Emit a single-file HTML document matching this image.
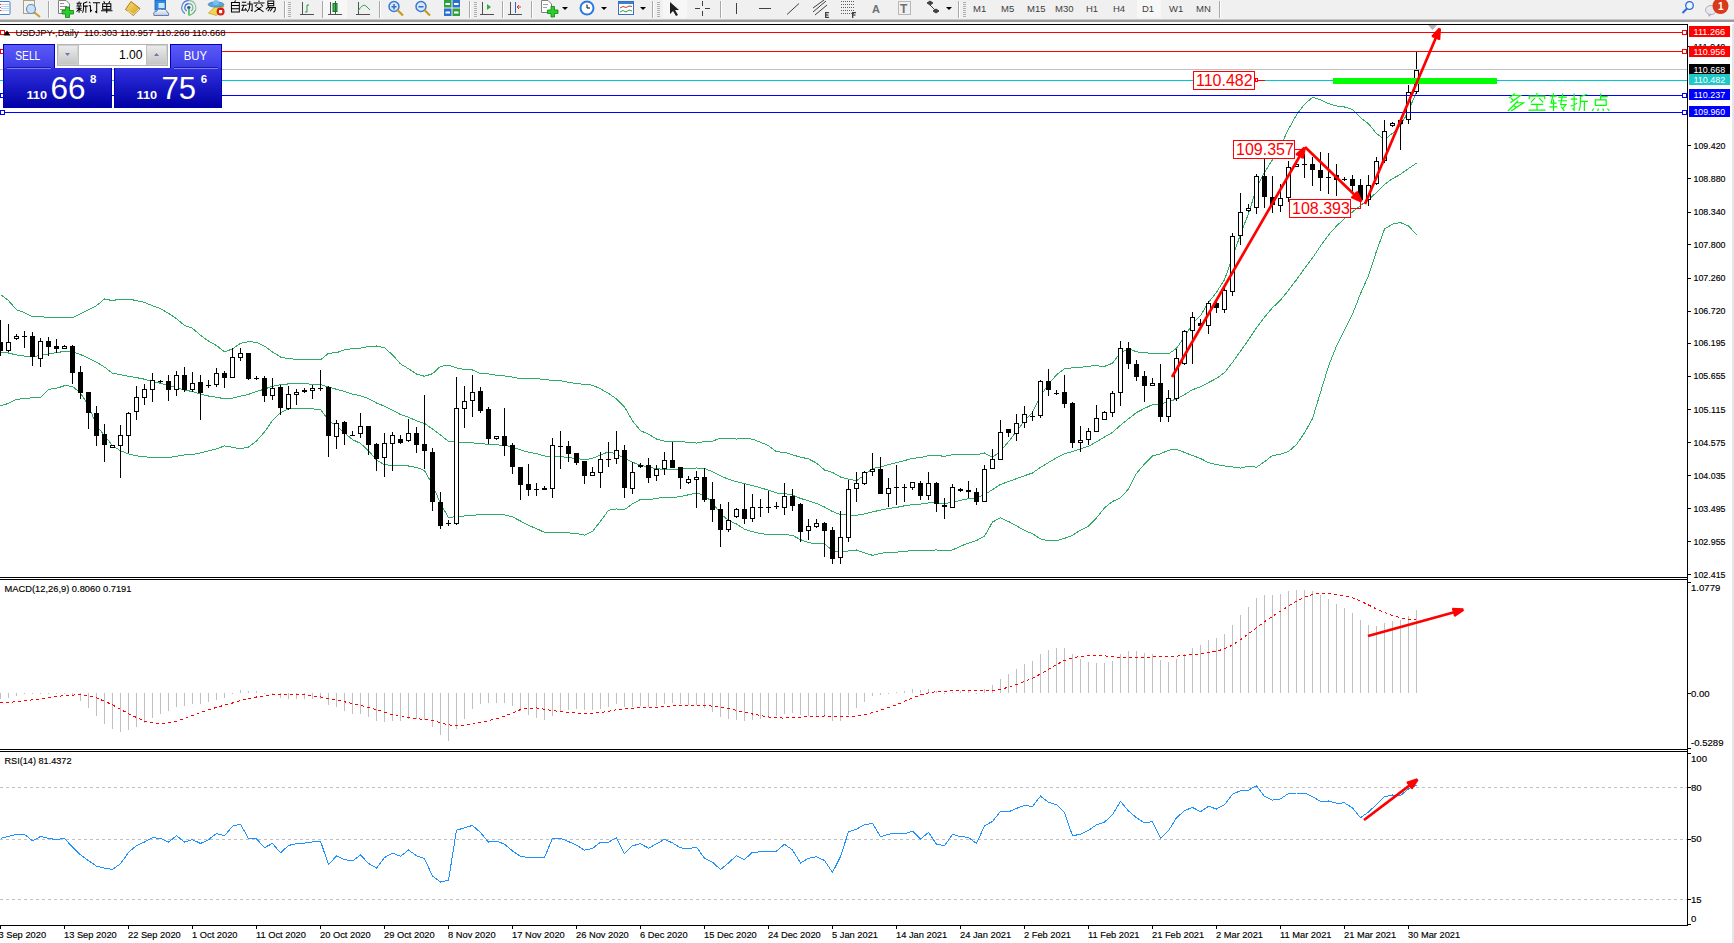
<!DOCTYPE html>
<html><head><meta charset="utf-8"><style>
html,body{margin:0;padding:0;background:#fff;}
body{width:1734px;height:943px;position:relative;overflow:hidden;font-family:"Liberation Sans",sans-serif;}
#tb{position:absolute;left:0;top:0;width:1734px;height:20px;background:#f0f0f0;border-bottom:2px solid #a0a0a0;}
</style></head><body>
<div id="tb"></div>
<svg id="ch" width="1734" height="943" viewBox="0 0 1734 943" style="position:absolute;left:0;top:0">
<g shape-rendering="crispEdges">
<rect x="0" y="24" width="1688" height="1" fill="#000"/>
<rect x="0" y="577" width="1688" height="1" fill="#000"/>
<rect x="0" y="579" width="1688" height="1" fill="#000"/>
<rect x="0" y="749" width="1688" height="1" fill="#000"/>
<rect x="0" y="751" width="1688" height="1" fill="#000"/>
<rect x="0" y="925" width="1688" height="1" fill="#000"/>
<rect x="1687" y="24" width="1" height="902" fill="#000"/>
<rect x="1732" y="0" width="2" height="943" fill="#e6e6e6"/>
<rect x="0" y="926" width="1" height="3" fill="#000"/>
<rect x="64" y="926" width="1" height="3" fill="#000"/>
<rect x="128" y="926" width="1" height="3" fill="#000"/>
<rect x="192" y="926" width="1" height="3" fill="#000"/>
<rect x="256" y="926" width="1" height="3" fill="#000"/>
<rect x="320" y="926" width="1" height="3" fill="#000"/>
<rect x="384" y="926" width="1" height="3" fill="#000"/>
<rect x="448" y="926" width="1" height="3" fill="#000"/>
<rect x="512" y="926" width="1" height="3" fill="#000"/>
<rect x="576" y="926" width="1" height="3" fill="#000"/>
<rect x="640" y="926" width="1" height="3" fill="#000"/>
<rect x="704" y="926" width="1" height="3" fill="#000"/>
<rect x="768" y="926" width="1" height="3" fill="#000"/>
<rect x="832" y="926" width="1" height="3" fill="#000"/>
<rect x="896" y="926" width="1" height="3" fill="#000"/>
<rect x="960" y="926" width="1" height="3" fill="#000"/>
<rect x="1024" y="926" width="1" height="3" fill="#000"/>
<rect x="1088" y="926" width="1" height="3" fill="#000"/>
<rect x="1152" y="926" width="1" height="3" fill="#000"/>
<rect x="1216" y="926" width="1" height="3" fill="#000"/>
<rect x="1280" y="926" width="1" height="3" fill="#000"/>
<rect x="1344" y="926" width="1" height="3" fill="#000"/>
<rect x="1408" y="926" width="1" height="3" fill="#000"/>
</g>
<g font-family='"Liberation Sans", sans-serif' font-size="9.3" fill="#000" stroke="#000" stroke-width="0.15">
<text x="-1.5" y="938">3 Sep 2020</text>
<text x="64" y="938">13 Sep 2020</text>
<text x="128" y="938">22 Sep 2020</text>
<text x="192" y="938">1 Oct 2020</text>
<text x="256" y="938">11 Oct 2020</text>
<text x="320" y="938">20 Oct 2020</text>
<text x="384" y="938">29 Oct 2020</text>
<text x="448" y="938">8 Nov 2020</text>
<text x="512" y="938">17 Nov 2020</text>
<text x="576" y="938">26 Nov 2020</text>
<text x="640" y="938">6 Dec 2020</text>
<text x="704" y="938">15 Dec 2020</text>
<text x="768" y="938">24 Dec 2020</text>
<text x="832" y="938">5 Jan 2021</text>
<text x="896" y="938">14 Jan 2021</text>
<text x="960" y="938">24 Jan 2021</text>
<text x="1024" y="938">2 Feb 2021</text>
<text x="1088" y="938">11 Feb 2021</text>
<text x="1152" y="938">21 Feb 2021</text>
<text x="1216" y="938">2 Mar 2021</text>
<text x="1280" y="938">11 Mar 2021</text>
<text x="1344" y="938">21 Mar 2021</text>
<text x="1408" y="938">30 Mar 2021</text>
</g>
<g stroke="#c0c0c0" stroke-width="1" stroke-dasharray="3,3" shape-rendering="crispEdges">
<line x1="0" y1="787.5" x2="1687" y2="787.5"/>
<line x1="0" y1="839.5" x2="1687" y2="839.5"/>
<line x1="0" y1="899.5" x2="1687" y2="899.5"/>
</g>
<g fill="none" stroke="#30ac66" stroke-width="1" shape-rendering="crispEdges">
<polyline points="0.5,294.6 8.5,300.6 16.5,309.7 24.5,312.7 32.5,316.8 40.5,316.4 48.5,317.8 56.5,317.8 64.5,317.8 72.5,317.8 80.5,313.7 88.5,309.7 96.5,305.7 104.5,299.0 112.5,300.6 120.5,299.0 128.5,299.0 136.5,300.6 144.5,302.3 152.5,305.8 160.5,308.6 168.5,313.3 176.5,318.7 184.5,325.4 192.5,328.3 200.5,335.2 208.5,341.1 216.5,345.5 224.5,351.8 232.5,348.9 240.5,343.3 248.5,341.8 256.5,342.2 264.5,346.1 272.5,351.9 280.5,357.0 288.5,358.9 296.5,359.1 304.5,359.1 312.5,359.5 320.5,359.8 328.5,353.3 336.5,352.7 344.5,349.9 352.5,348.6 360.5,348.1 368.5,346.6 376.5,346.0 384.5,347.8 392.5,354.8 400.5,363.9 408.5,368.7 416.5,374.0 424.5,376.3 432.5,373.7 440.5,366.3 448.5,365.3 456.5,367.9 464.5,369.4 472.5,370.0 480.5,373.7 488.5,373.9 496.5,375.2 504.5,376.0 512.5,377.1 520.5,378.8 528.5,378.9 536.5,378.7 544.5,379.5 552.5,380.5 560.5,380.7 568.5,382.4 576.5,383.5 584.5,384.4 592.5,385.2 600.5,388.8 608.5,393.4 616.5,398.9 624.5,407.0 632.5,420.8 640.5,430.7 648.5,434.2 656.5,439.0 664.5,441.2 672.5,441.3 680.5,441.6 688.5,442.3 696.5,443.1 704.5,441.4 712.5,441.1 720.5,438.1 728.5,438.1 736.5,439.1 744.5,438.3 752.5,439.2 760.5,442.2 768.5,445.7 776.5,451.8 784.5,452.3 792.5,454.9 800.5,457.1 808.5,458.9 816.5,463.1 824.5,470.0 832.5,472.5 840.5,477.0 848.5,479.2 856.5,480.7 864.5,475.0 872.5,468.5 880.5,466.9 888.5,464.6 896.5,462.6 904.5,460.6 912.5,458.3 920.5,457.7 928.5,455.7 936.5,455.7 944.5,456.2 952.5,454.8 960.5,454.6 968.5,454.4 976.5,454.8 984.5,453.0 992.5,457.4 1000.5,451.0 1008.5,441.7 1016.5,431.5 1024.5,421.0 1032.5,412.4 1040.5,395.8 1048.5,384.2 1056.5,374.8 1064.5,368.8 1072.5,367.8 1080.5,367.4 1088.5,366.1 1096.5,365.8 1104.5,366.4 1112.5,363.2 1120.5,352.7 1128.5,348.7 1136.5,351.8 1144.5,352.8 1152.5,353.3 1160.5,353.8 1168.5,354.0 1176.5,348.3 1184.5,336.9 1192.5,323.8 1200.5,315.5 1208.5,302.5 1216.5,292.3 1224.5,279.6 1232.5,257.8 1240.5,234.1 1248.5,213.7 1256.5,188.4 1264.5,172.4 1272.5,159.7 1280.5,146.2 1288.5,129.1 1296.5,114.9 1304.5,104.3 1312.5,97.3 1320.5,99.7 1328.5,103.7 1336.5,105.9 1344.5,107.0 1352.5,109.5 1360.5,117.7 1368.5,123.8 1376.5,133.6 1384.5,139.6 1392.5,133.3 1400.5,125.9 1408.5,111.0 1416.5,91.6"/>
<polyline points="0.5,352.0 8.5,353.0 16.5,355.0 24.5,356.1 32.5,356.7 40.5,355.5 48.5,354.0 56.5,352.6 64.5,351.4 72.5,352.0 80.5,354.6 88.5,358.1 96.5,362.1 104.5,367.1 112.5,373.2 120.5,374.8 128.5,376.2 136.5,377.6 144.5,379.2 152.5,381.6 160.5,383.2 168.5,385.5 176.5,387.5 184.5,390.2 192.5,391.5 200.5,394.1 208.5,396.0 216.5,397.2 224.5,398.8 232.5,398.1 240.5,396.1 248.5,394.4 256.5,391.5 264.5,389.1 272.5,386.2 280.5,384.8 288.5,383.9 296.5,383.7 304.5,383.8 312.5,384.2 320.5,384.6 328.5,386.9 336.5,389.3 344.5,391.5 352.5,394.1 360.5,395.7 368.5,398.7 376.5,403.0 384.5,406.2 392.5,410.1 400.5,414.6 408.5,417.3 416.5,420.7 424.5,423.4 432.5,429.1 440.5,435.0 448.5,441.4 456.5,442.2 464.5,442.7 472.5,442.8 480.5,443.9 488.5,444.1 496.5,444.8 504.5,445.4 512.5,447.0 520.5,449.9 528.5,452.2 536.5,453.7 544.5,456.0 552.5,456.5 560.5,456.6 568.5,457.6 576.5,458.5 584.5,459.8 592.5,458.3 600.5,455.0 608.5,451.8 616.5,453.9 624.5,458.3 632.5,462.3 640.5,465.1 648.5,467.0 656.5,468.7 664.5,469.4 672.5,469.4 680.5,469.1 688.5,468.5 696.5,468.0 704.5,468.5 712.5,471.7 720.5,475.9 728.5,479.3 736.5,481.6 744.5,483.7 752.5,485.5 760.5,487.8 768.5,490.2 776.5,493.0 784.5,493.4 792.5,495.1 800.5,498.4 808.5,500.8 816.5,503.5 824.5,507.0 832.5,511.6 840.5,514.5 848.5,515.0 856.5,515.3 864.5,513.9 872.5,511.9 880.5,510.1 888.5,508.5 896.5,507.4 904.5,505.8 912.5,504.6 920.5,504.1 928.5,502.9 936.5,502.8 944.5,503.4 952.5,502.4 960.5,500.4 968.5,498.7 976.5,497.7 984.5,494.6 992.5,489.7 1000.5,484.4 1008.5,481.6 1016.5,478.6 1024.5,475.7 1032.5,473.0 1040.5,467.4 1048.5,462.5 1056.5,457.8 1064.5,453.6 1072.5,451.6 1080.5,448.8 1088.5,446.2 1096.5,441.8 1104.5,437.1 1112.5,432.4 1120.5,425.2 1128.5,418.8 1136.5,412.6 1144.5,408.4 1152.5,404.6 1160.5,403.8 1168.5,402.1 1176.5,398.8 1184.5,394.6 1192.5,389.7 1200.5,386.9 1208.5,382.6 1216.5,378.4 1224.5,372.7 1232.5,362.4 1240.5,351.1 1248.5,339.9 1256.5,327.8 1264.5,317.1 1272.5,307.7 1280.5,300.2 1288.5,290.3 1296.5,279.7 1304.5,268.6 1312.5,258.0 1320.5,246.0 1328.5,235.0 1336.5,226.1 1344.5,218.5 1352.5,211.9 1360.5,205.6 1368.5,199.7 1376.5,192.4 1384.5,184.4 1392.5,178.7 1400.5,174.3 1408.5,168.5 1416.5,163.1"/>
<polyline points="0.5,405.8 8.5,403.4 16.5,399.4 24.5,398.4 32.5,397.8 40.5,397.4 48.5,389.3 56.5,388.3 64.5,385.7 72.5,386.3 80.5,393.3 88.5,405.4 96.5,425.6 104.5,435.6 112.5,445.7 120.5,450.8 128.5,453.8 136.5,455.8 144.5,456.8 152.5,457.4 160.5,457.7 168.5,457.7 176.5,456.3 184.5,454.9 192.5,454.6 200.5,452.9 208.5,450.9 216.5,448.9 224.5,445.9 232.5,447.2 240.5,448.9 248.5,447.0 256.5,440.9 264.5,432.0 272.5,420.5 280.5,412.6 288.5,408.9 296.5,408.2 304.5,408.5 312.5,408.9 320.5,409.4 328.5,420.5 336.5,425.9 344.5,433.0 352.5,439.6 360.5,443.4 368.5,450.8 376.5,460.0 384.5,464.7 392.5,465.4 400.5,465.3 408.5,466.0 416.5,467.4 424.5,470.5 432.5,484.6 440.5,503.7 448.5,517.6 456.5,516.6 464.5,516.0 472.5,515.7 480.5,514.1 488.5,514.3 496.5,514.4 504.5,514.8 512.5,516.9 520.5,521.0 528.5,525.4 536.5,528.6 544.5,532.4 552.5,532.5 560.5,532.6 568.5,532.9 576.5,533.6 584.5,535.1 592.5,531.4 600.5,521.2 608.5,510.3 616.5,509.0 624.5,509.6 632.5,503.8 640.5,499.5 648.5,499.8 656.5,498.3 664.5,497.5 672.5,497.5 680.5,496.6 688.5,494.8 696.5,492.8 704.5,495.6 712.5,502.4 720.5,513.7 728.5,520.4 736.5,524.0 744.5,529.1 752.5,531.7 760.5,533.5 768.5,534.7 776.5,534.1 784.5,534.5 792.5,535.4 800.5,539.6 808.5,542.6 816.5,543.9 824.5,544.0 832.5,550.6 840.5,552.0 848.5,550.9 856.5,550.0 864.5,552.8 872.5,555.3 880.5,553.3 888.5,552.4 896.5,552.2 904.5,551.1 912.5,550.9 920.5,550.5 928.5,550.1 936.5,550.0 944.5,550.5 952.5,550.0 960.5,546.2 968.5,543.1 976.5,540.6 984.5,536.2 992.5,522.0 1000.5,517.9 1008.5,521.5 1016.5,525.8 1024.5,530.5 1032.5,533.7 1040.5,539.0 1048.5,540.8 1056.5,540.7 1064.5,538.4 1072.5,535.4 1080.5,530.1 1088.5,526.2 1096.5,517.9 1104.5,507.8 1112.5,501.5 1120.5,497.8 1128.5,489.0 1136.5,473.3 1144.5,464.0 1152.5,455.9 1160.5,453.8 1168.5,450.2 1176.5,449.3 1184.5,452.4 1192.5,455.6 1200.5,458.4 1208.5,462.7 1216.5,464.5 1224.5,465.9 1232.5,467.0 1240.5,468.1 1248.5,466.2 1256.5,467.2 1264.5,461.7 1272.5,455.6 1280.5,454.1 1288.5,451.5 1296.5,444.5 1304.5,432.9 1312.5,418.6 1320.5,392.4 1328.5,366.2 1336.5,346.2 1344.5,329.9 1352.5,314.3 1360.5,293.6 1368.5,275.6 1376.5,251.1 1384.5,229.1 1392.5,224.1 1400.5,222.6 1408.5,225.9 1416.5,234.6"/>
</g>
<g shape-rendering="crispEdges">
<rect x="0" y="320" width="1" height="36" fill="#000"/>
<rect x="-2" y="342" width="5" height="9" fill="#000"/>
<rect x="8" y="324" width="1" height="28" fill="#000"/>
<rect x="6" y="342" width="5" height="9" fill="#000"/>
<rect x="7" y="343" width="3" height="7" fill="#fff"/>
<rect x="16" y="334" width="1" height="6" fill="#000"/>
<rect x="14" y="336" width="5" height="3" fill="#000"/>
<rect x="15" y="337" width="3" height="1" fill="#fff"/>
<rect x="24" y="331" width="1" height="17" fill="#000"/>
<rect x="22" y="336" width="5" height="1" fill="#000"/>
<rect x="32" y="332" width="1" height="34" fill="#000"/>
<rect x="30" y="336" width="5" height="21" fill="#000"/>
<rect x="40" y="338" width="1" height="29" fill="#000"/>
<rect x="38" y="341" width="5" height="18" fill="#000"/>
<rect x="39" y="342" width="3" height="16" fill="#fff"/>
<rect x="48" y="337" width="1" height="19" fill="#000"/>
<rect x="46" y="341" width="5" height="6" fill="#000"/>
<rect x="56" y="339" width="1" height="14" fill="#000"/>
<rect x="54" y="346" width="5" height="3" fill="#000"/>
<rect x="64" y="345" width="1" height="3" fill="#000"/>
<rect x="62" y="346" width="5" height="3" fill="#000"/>
<rect x="63" y="347" width="3" height="1" fill="#fff"/>
<rect x="72" y="345" width="1" height="39" fill="#000"/>
<rect x="70" y="346" width="5" height="27" fill="#000"/>
<rect x="80" y="366" width="1" height="33" fill="#000"/>
<rect x="78" y="372" width="5" height="21" fill="#000"/>
<rect x="88" y="392" width="1" height="37" fill="#000"/>
<rect x="86" y="392" width="5" height="21" fill="#000"/>
<rect x="96" y="406" width="1" height="40" fill="#000"/>
<rect x="94" y="413" width="5" height="23" fill="#000"/>
<rect x="104" y="424" width="1" height="38" fill="#000"/>
<rect x="102" y="434" width="5" height="11" fill="#000"/>
<rect x="112" y="445" width="1" height="2" fill="#000"/>
<rect x="110" y="445" width="5" height="3" fill="#000"/>
<rect x="111" y="446" width="3" height="1" fill="#fff"/>
<rect x="120" y="425" width="1" height="53" fill="#000"/>
<rect x="118" y="435" width="5" height="11" fill="#000"/>
<rect x="119" y="436" width="3" height="9" fill="#fff"/>
<rect x="128" y="412" width="1" height="41" fill="#000"/>
<rect x="126" y="413" width="5" height="23" fill="#000"/>
<rect x="127" y="414" width="3" height="21" fill="#fff"/>
<rect x="136" y="386" width="1" height="34" fill="#000"/>
<rect x="134" y="397" width="5" height="15" fill="#000"/>
<rect x="135" y="398" width="3" height="13" fill="#fff"/>
<rect x="144" y="384" width="1" height="21" fill="#000"/>
<rect x="142" y="389" width="5" height="9" fill="#000"/>
<rect x="143" y="390" width="3" height="7" fill="#fff"/>
<rect x="152" y="373" width="1" height="29" fill="#000"/>
<rect x="150" y="380" width="5" height="10" fill="#000"/>
<rect x="151" y="381" width="3" height="8" fill="#fff"/>
<rect x="160" y="380" width="1" height="3" fill="#000"/>
<rect x="158" y="381" width="5" height="1" fill="#000"/>
<rect x="168" y="375" width="1" height="26" fill="#000"/>
<rect x="166" y="381" width="5" height="9" fill="#000"/>
<rect x="176" y="371" width="1" height="25" fill="#000"/>
<rect x="174" y="375" width="5" height="15" fill="#000"/>
<rect x="175" y="376" width="3" height="13" fill="#fff"/>
<rect x="184" y="367" width="1" height="25" fill="#000"/>
<rect x="182" y="375" width="5" height="15" fill="#000"/>
<rect x="192" y="372" width="1" height="20" fill="#000"/>
<rect x="190" y="383" width="5" height="7" fill="#000"/>
<rect x="191" y="384" width="3" height="5" fill="#fff"/>
<rect x="200" y="375" width="1" height="45" fill="#000"/>
<rect x="198" y="382" width="5" height="11" fill="#000"/>
<rect x="208" y="380" width="1" height="8" fill="#000"/>
<rect x="206" y="385" width="5" height="1" fill="#000"/>
<rect x="216" y="368" width="1" height="19" fill="#000"/>
<rect x="214" y="373" width="5" height="12" fill="#000"/>
<rect x="215" y="374" width="3" height="10" fill="#fff"/>
<rect x="224" y="371" width="1" height="17" fill="#000"/>
<rect x="222" y="373" width="5" height="5" fill="#000"/>
<rect x="232" y="348" width="1" height="30" fill="#000"/>
<rect x="230" y="357" width="5" height="21" fill="#000"/>
<rect x="231" y="358" width="3" height="19" fill="#fff"/>
<rect x="240" y="348" width="1" height="13" fill="#000"/>
<rect x="238" y="353" width="5" height="5" fill="#000"/>
<rect x="239" y="354" width="3" height="3" fill="#fff"/>
<rect x="248" y="353" width="1" height="27" fill="#000"/>
<rect x="246" y="353" width="5" height="26" fill="#000"/>
<rect x="256" y="376" width="1" height="4" fill="#000"/>
<rect x="254" y="378" width="5" height="1" fill="#000"/>
<rect x="264" y="376" width="1" height="26" fill="#000"/>
<rect x="262" y="378" width="5" height="18" fill="#000"/>
<rect x="272" y="378" width="1" height="22" fill="#000"/>
<rect x="270" y="388" width="5" height="8" fill="#000"/>
<rect x="271" y="389" width="3" height="6" fill="#fff"/>
<rect x="280" y="385" width="1" height="30" fill="#000"/>
<rect x="278" y="387" width="5" height="21" fill="#000"/>
<rect x="288" y="386" width="1" height="24" fill="#000"/>
<rect x="286" y="394" width="5" height="15" fill="#000"/>
<rect x="287" y="395" width="3" height="13" fill="#fff"/>
<rect x="296" y="389" width="1" height="16" fill="#000"/>
<rect x="294" y="392" width="5" height="3" fill="#000"/>
<rect x="295" y="393" width="3" height="1" fill="#fff"/>
<rect x="304" y="388" width="1" height="5" fill="#000"/>
<rect x="302" y="390" width="5" height="2" fill="#000"/>
<rect x="312" y="385" width="1" height="14" fill="#000"/>
<rect x="310" y="388" width="5" height="3" fill="#000"/>
<rect x="311" y="389" width="3" height="1" fill="#fff"/>
<rect x="320" y="370" width="1" height="21" fill="#000"/>
<rect x="318" y="388" width="5" height="1" fill="#000"/>
<rect x="328" y="386" width="1" height="71" fill="#000"/>
<rect x="326" y="387" width="5" height="49" fill="#000"/>
<rect x="336" y="420" width="1" height="29" fill="#000"/>
<rect x="334" y="423" width="5" height="14" fill="#000"/>
<rect x="335" y="424" width="3" height="12" fill="#fff"/>
<rect x="344" y="421" width="1" height="24" fill="#000"/>
<rect x="342" y="422" width="5" height="12" fill="#000"/>
<rect x="352" y="431" width="1" height="4" fill="#000"/>
<rect x="350" y="435" width="5" height="1" fill="#000"/>
<rect x="360" y="413" width="1" height="25" fill="#000"/>
<rect x="358" y="426" width="5" height="8" fill="#000"/>
<rect x="359" y="427" width="3" height="6" fill="#fff"/>
<rect x="368" y="426" width="1" height="29" fill="#000"/>
<rect x="366" y="426" width="5" height="19" fill="#000"/>
<rect x="376" y="443" width="1" height="28" fill="#000"/>
<rect x="374" y="444" width="5" height="15" fill="#000"/>
<rect x="384" y="433" width="1" height="44" fill="#000"/>
<rect x="382" y="443" width="5" height="15" fill="#000"/>
<rect x="383" y="444" width="3" height="13" fill="#fff"/>
<rect x="392" y="432" width="1" height="39" fill="#000"/>
<rect x="390" y="435" width="5" height="9" fill="#000"/>
<rect x="391" y="436" width="3" height="7" fill="#fff"/>
<rect x="400" y="435" width="1" height="9" fill="#000"/>
<rect x="398" y="439" width="5" height="4" fill="#000"/>
<rect x="408" y="419" width="1" height="23" fill="#000"/>
<rect x="406" y="433" width="5" height="8" fill="#000"/>
<rect x="407" y="434" width="3" height="6" fill="#fff"/>
<rect x="416" y="427" width="1" height="26" fill="#000"/>
<rect x="414" y="433" width="5" height="12" fill="#000"/>
<rect x="424" y="395" width="1" height="74" fill="#000"/>
<rect x="422" y="444" width="5" height="7" fill="#000"/>
<rect x="432" y="448" width="1" height="63" fill="#000"/>
<rect x="430" y="452" width="5" height="50" fill="#000"/>
<rect x="440" y="492" width="1" height="37" fill="#000"/>
<rect x="438" y="502" width="5" height="24" fill="#000"/>
<rect x="448" y="520" width="1" height="6" fill="#000"/>
<rect x="446" y="523" width="5" height="1" fill="#000"/>
<rect x="456" y="377" width="1" height="148" fill="#000"/>
<rect x="454" y="408" width="5" height="116" fill="#000"/>
<rect x="455" y="409" width="3" height="114" fill="#fff"/>
<rect x="464" y="386" width="1" height="42" fill="#000"/>
<rect x="462" y="401" width="5" height="8" fill="#000"/>
<rect x="463" y="402" width="3" height="6" fill="#fff"/>
<rect x="472" y="375" width="1" height="42" fill="#000"/>
<rect x="470" y="392" width="5" height="9" fill="#000"/>
<rect x="471" y="393" width="3" height="7" fill="#fff"/>
<rect x="480" y="387" width="1" height="26" fill="#000"/>
<rect x="478" y="391" width="5" height="20" fill="#000"/>
<rect x="488" y="407" width="1" height="37" fill="#000"/>
<rect x="486" y="409" width="5" height="30" fill="#000"/>
<rect x="496" y="436" width="1" height="4" fill="#000"/>
<rect x="494" y="436" width="5" height="3" fill="#000"/>
<rect x="495" y="437" width="3" height="1" fill="#fff"/>
<rect x="504" y="408" width="1" height="48" fill="#000"/>
<rect x="502" y="436" width="5" height="10" fill="#000"/>
<rect x="512" y="443" width="1" height="31" fill="#000"/>
<rect x="510" y="445" width="5" height="22" fill="#000"/>
<rect x="520" y="467" width="1" height="33" fill="#000"/>
<rect x="518" y="467" width="5" height="18" fill="#000"/>
<rect x="528" y="464" width="1" height="32" fill="#000"/>
<rect x="526" y="484" width="5" height="6" fill="#000"/>
<rect x="536" y="483" width="1" height="13" fill="#000"/>
<rect x="534" y="489" width="5" height="1" fill="#000"/>
<rect x="544" y="486" width="1" height="4" fill="#000"/>
<rect x="542" y="488" width="5" height="2" fill="#000"/>
<rect x="552" y="438" width="1" height="60" fill="#000"/>
<rect x="550" y="445" width="5" height="44" fill="#000"/>
<rect x="551" y="446" width="3" height="42" fill="#fff"/>
<rect x="560" y="431" width="1" height="38" fill="#000"/>
<rect x="558" y="446" width="5" height="1" fill="#000"/>
<rect x="568" y="441" width="1" height="21" fill="#000"/>
<rect x="566" y="446" width="5" height="8" fill="#000"/>
<rect x="576" y="453" width="1" height="12" fill="#000"/>
<rect x="574" y="453" width="5" height="10" fill="#000"/>
<rect x="584" y="461" width="1" height="23" fill="#000"/>
<rect x="582" y="461" width="5" height="15" fill="#000"/>
<rect x="592" y="467" width="1" height="9" fill="#000"/>
<rect x="590" y="472" width="5" height="4" fill="#000"/>
<rect x="591" y="473" width="3" height="2" fill="#fff"/>
<rect x="600" y="452" width="1" height="36" fill="#000"/>
<rect x="598" y="459" width="5" height="14" fill="#000"/>
<rect x="599" y="460" width="3" height="12" fill="#fff"/>
<rect x="608" y="442" width="1" height="25" fill="#000"/>
<rect x="606" y="459" width="5" height="1" fill="#000"/>
<rect x="616" y="431" width="1" height="33" fill="#000"/>
<rect x="614" y="450" width="5" height="9" fill="#000"/>
<rect x="615" y="451" width="3" height="7" fill="#fff"/>
<rect x="624" y="445" width="1" height="53" fill="#000"/>
<rect x="622" y="450" width="5" height="38" fill="#000"/>
<rect x="632" y="462" width="1" height="32" fill="#000"/>
<rect x="630" y="472" width="5" height="17" fill="#000"/>
<rect x="631" y="473" width="3" height="15" fill="#fff"/>
<rect x="640" y="463" width="1" height="5" fill="#000"/>
<rect x="638" y="465" width="5" height="2" fill="#000"/>
<rect x="648" y="458" width="1" height="25" fill="#000"/>
<rect x="646" y="465" width="5" height="13" fill="#000"/>
<rect x="656" y="465" width="1" height="16" fill="#000"/>
<rect x="654" y="469" width="5" height="7" fill="#000"/>
<rect x="655" y="470" width="3" height="5" fill="#fff"/>
<rect x="664" y="452" width="1" height="23" fill="#000"/>
<rect x="662" y="460" width="5" height="9" fill="#000"/>
<rect x="663" y="461" width="3" height="7" fill="#fff"/>
<rect x="672" y="442" width="1" height="26" fill="#000"/>
<rect x="670" y="460" width="5" height="8" fill="#000"/>
<rect x="680" y="467" width="1" height="22" fill="#000"/>
<rect x="678" y="467" width="5" height="11" fill="#000"/>
<rect x="688" y="476" width="1" height="8" fill="#000"/>
<rect x="686" y="479" width="5" height="4" fill="#000"/>
<rect x="687" y="480" width="3" height="2" fill="#fff"/>
<rect x="696" y="471" width="1" height="37" fill="#000"/>
<rect x="694" y="477" width="5" height="3" fill="#000"/>
<rect x="695" y="478" width="3" height="1" fill="#fff"/>
<rect x="704" y="468" width="1" height="34" fill="#000"/>
<rect x="702" y="477" width="5" height="23" fill="#000"/>
<rect x="712" y="482" width="1" height="40" fill="#000"/>
<rect x="710" y="499" width="5" height="11" fill="#000"/>
<rect x="720" y="504" width="1" height="43" fill="#000"/>
<rect x="718" y="509" width="5" height="21" fill="#000"/>
<rect x="728" y="502" width="1" height="30" fill="#000"/>
<rect x="726" y="520" width="5" height="10" fill="#000"/>
<rect x="727" y="521" width="3" height="8" fill="#fff"/>
<rect x="736" y="508" width="1" height="10" fill="#000"/>
<rect x="734" y="509" width="5" height="8" fill="#000"/>
<rect x="735" y="510" width="3" height="6" fill="#fff"/>
<rect x="744" y="484" width="1" height="40" fill="#000"/>
<rect x="742" y="509" width="5" height="10" fill="#000"/>
<rect x="752" y="494" width="1" height="28" fill="#000"/>
<rect x="750" y="507" width="5" height="12" fill="#000"/>
<rect x="751" y="508" width="3" height="10" fill="#fff"/>
<rect x="760" y="499" width="1" height="18" fill="#000"/>
<rect x="758" y="507" width="5" height="1" fill="#000"/>
<rect x="768" y="491" width="1" height="22" fill="#000"/>
<rect x="766" y="507" width="5" height="1" fill="#000"/>
<rect x="776" y="502" width="1" height="7" fill="#000"/>
<rect x="774" y="506" width="5" height="1" fill="#000"/>
<rect x="784" y="483" width="1" height="32" fill="#000"/>
<rect x="782" y="496" width="5" height="12" fill="#000"/>
<rect x="783" y="497" width="3" height="10" fill="#fff"/>
<rect x="792" y="489" width="1" height="22" fill="#000"/>
<rect x="790" y="496" width="5" height="10" fill="#000"/>
<rect x="800" y="503" width="1" height="39" fill="#000"/>
<rect x="798" y="504" width="5" height="28" fill="#000"/>
<rect x="808" y="519" width="1" height="21" fill="#000"/>
<rect x="806" y="526" width="5" height="5" fill="#000"/>
<rect x="807" y="527" width="3" height="3" fill="#fff"/>
<rect x="816" y="519" width="1" height="9" fill="#000"/>
<rect x="814" y="523" width="5" height="4" fill="#000"/>
<rect x="815" y="524" width="3" height="2" fill="#fff"/>
<rect x="824" y="522" width="1" height="35" fill="#000"/>
<rect x="822" y="523" width="5" height="8" fill="#000"/>
<rect x="832" y="527" width="1" height="37" fill="#000"/>
<rect x="830" y="530" width="5" height="29" fill="#000"/>
<rect x="840" y="511" width="1" height="53" fill="#000"/>
<rect x="838" y="537" width="5" height="21" fill="#000"/>
<rect x="839" y="538" width="3" height="19" fill="#fff"/>
<rect x="848" y="480" width="1" height="62" fill="#000"/>
<rect x="846" y="489" width="5" height="49" fill="#000"/>
<rect x="847" y="490" width="3" height="47" fill="#fff"/>
<rect x="856" y="472" width="1" height="30" fill="#000"/>
<rect x="854" y="483" width="5" height="6" fill="#000"/>
<rect x="855" y="484" width="3" height="4" fill="#fff"/>
<rect x="864" y="471" width="1" height="14" fill="#000"/>
<rect x="862" y="472" width="5" height="12" fill="#000"/>
<rect x="863" y="473" width="3" height="10" fill="#fff"/>
<rect x="872" y="453" width="1" height="23" fill="#000"/>
<rect x="870" y="469" width="5" height="3" fill="#000"/>
<rect x="871" y="470" width="3" height="1" fill="#fff"/>
<rect x="880" y="457" width="1" height="37" fill="#000"/>
<rect x="878" y="469" width="5" height="25" fill="#000"/>
<rect x="888" y="478" width="1" height="29" fill="#000"/>
<rect x="886" y="488" width="5" height="6" fill="#000"/>
<rect x="887" y="489" width="3" height="4" fill="#fff"/>
<rect x="896" y="465" width="1" height="40" fill="#000"/>
<rect x="894" y="487" width="5" height="1" fill="#000"/>
<rect x="904" y="484" width="1" height="18" fill="#000"/>
<rect x="902" y="487" width="5" height="1" fill="#000"/>
<rect x="912" y="482" width="1" height="8" fill="#000"/>
<rect x="910" y="482" width="5" height="6" fill="#000"/>
<rect x="911" y="483" width="3" height="4" fill="#fff"/>
<rect x="920" y="481" width="1" height="19" fill="#000"/>
<rect x="918" y="483" width="5" height="13" fill="#000"/>
<rect x="928" y="472" width="1" height="28" fill="#000"/>
<rect x="926" y="483" width="5" height="13" fill="#000"/>
<rect x="927" y="484" width="3" height="11" fill="#fff"/>
<rect x="936" y="482" width="1" height="30" fill="#000"/>
<rect x="934" y="483" width="5" height="21" fill="#000"/>
<rect x="944" y="498" width="1" height="21" fill="#000"/>
<rect x="942" y="505" width="5" height="2" fill="#000"/>
<rect x="952" y="484" width="1" height="24" fill="#000"/>
<rect x="950" y="487" width="5" height="21" fill="#000"/>
<rect x="951" y="488" width="3" height="19" fill="#fff"/>
<rect x="960" y="488" width="1" height="4" fill="#000"/>
<rect x="958" y="489" width="5" height="2" fill="#000"/>
<rect x="968" y="481" width="1" height="17" fill="#000"/>
<rect x="966" y="490" width="5" height="2" fill="#000"/>
<rect x="976" y="488" width="1" height="17" fill="#000"/>
<rect x="974" y="492" width="5" height="10" fill="#000"/>
<rect x="984" y="465" width="1" height="37" fill="#000"/>
<rect x="982" y="469" width="5" height="33" fill="#000"/>
<rect x="983" y="470" width="3" height="31" fill="#fff"/>
<rect x="992" y="449" width="1" height="20" fill="#000"/>
<rect x="990" y="459" width="5" height="10" fill="#000"/>
<rect x="991" y="460" width="3" height="8" fill="#fff"/>
<rect x="1000" y="420" width="1" height="40" fill="#000"/>
<rect x="998" y="432" width="5" height="28" fill="#000"/>
<rect x="999" y="433" width="3" height="26" fill="#fff"/>
<rect x="1008" y="429" width="1" height="8" fill="#000"/>
<rect x="1006" y="429" width="5" height="4" fill="#000"/>
<rect x="1016" y="414" width="1" height="27" fill="#000"/>
<rect x="1014" y="423" width="5" height="11" fill="#000"/>
<rect x="1015" y="424" width="3" height="9" fill="#fff"/>
<rect x="1024" y="406" width="1" height="22" fill="#000"/>
<rect x="1022" y="414" width="5" height="9" fill="#000"/>
<rect x="1023" y="415" width="3" height="7" fill="#fff"/>
<rect x="1032" y="411" width="1" height="10" fill="#000"/>
<rect x="1030" y="416" width="5" height="1" fill="#000"/>
<rect x="1040" y="380" width="1" height="38" fill="#000"/>
<rect x="1038" y="381" width="5" height="35" fill="#000"/>
<rect x="1039" y="382" width="3" height="33" fill="#fff"/>
<rect x="1048" y="369" width="1" height="27" fill="#000"/>
<rect x="1046" y="381" width="5" height="9" fill="#000"/>
<rect x="1056" y="390" width="1" height="5" fill="#000"/>
<rect x="1054" y="393" width="5" height="1" fill="#000"/>
<rect x="1064" y="375" width="1" height="33" fill="#000"/>
<rect x="1062" y="392" width="5" height="12" fill="#000"/>
<rect x="1072" y="402" width="1" height="46" fill="#000"/>
<rect x="1070" y="403" width="5" height="40" fill="#000"/>
<rect x="1080" y="426" width="1" height="26" fill="#000"/>
<rect x="1078" y="440" width="5" height="3" fill="#000"/>
<rect x="1079" y="441" width="3" height="1" fill="#fff"/>
<rect x="1088" y="428" width="1" height="17" fill="#000"/>
<rect x="1086" y="431" width="5" height="9" fill="#000"/>
<rect x="1087" y="432" width="3" height="7" fill="#fff"/>
<rect x="1096" y="405" width="1" height="27" fill="#000"/>
<rect x="1094" y="418" width="5" height="14" fill="#000"/>
<rect x="1095" y="419" width="3" height="12" fill="#fff"/>
<rect x="1104" y="411" width="1" height="9" fill="#000"/>
<rect x="1102" y="412" width="5" height="8" fill="#000"/>
<rect x="1103" y="413" width="3" height="6" fill="#fff"/>
<rect x="1112" y="391" width="1" height="26" fill="#000"/>
<rect x="1110" y="393" width="5" height="20" fill="#000"/>
<rect x="1111" y="394" width="3" height="18" fill="#fff"/>
<rect x="1120" y="341" width="1" height="65" fill="#000"/>
<rect x="1118" y="348" width="5" height="45" fill="#000"/>
<rect x="1119" y="349" width="3" height="43" fill="#fff"/>
<rect x="1128" y="342" width="1" height="27" fill="#000"/>
<rect x="1126" y="348" width="5" height="16" fill="#000"/>
<rect x="1136" y="360" width="1" height="21" fill="#000"/>
<rect x="1134" y="364" width="5" height="13" fill="#000"/>
<rect x="1144" y="371" width="1" height="31" fill="#000"/>
<rect x="1142" y="376" width="5" height="10" fill="#000"/>
<rect x="1152" y="378" width="1" height="8" fill="#000"/>
<rect x="1150" y="383" width="5" height="3" fill="#000"/>
<rect x="1151" y="384" width="3" height="1" fill="#fff"/>
<rect x="1160" y="364" width="1" height="58" fill="#000"/>
<rect x="1158" y="383" width="5" height="34" fill="#000"/>
<rect x="1168" y="390" width="1" height="32" fill="#000"/>
<rect x="1166" y="398" width="5" height="19" fill="#000"/>
<rect x="1167" y="399" width="3" height="17" fill="#fff"/>
<rect x="1176" y="349" width="1" height="52" fill="#000"/>
<rect x="1174" y="358" width="5" height="41" fill="#000"/>
<rect x="1175" y="359" width="3" height="39" fill="#fff"/>
<rect x="1184" y="330" width="1" height="35" fill="#000"/>
<rect x="1182" y="331" width="5" height="33" fill="#000"/>
<rect x="1183" y="332" width="3" height="31" fill="#fff"/>
<rect x="1192" y="312" width="1" height="52" fill="#000"/>
<rect x="1190" y="317" width="5" height="14" fill="#000"/>
<rect x="1191" y="318" width="3" height="12" fill="#fff"/>
<rect x="1200" y="319" width="1" height="8" fill="#000"/>
<rect x="1198" y="323" width="5" height="3" fill="#000"/>
<rect x="1208" y="301" width="1" height="33" fill="#000"/>
<rect x="1206" y="303" width="5" height="23" fill="#000"/>
<rect x="1207" y="304" width="3" height="21" fill="#fff"/>
<rect x="1216" y="301" width="1" height="12" fill="#000"/>
<rect x="1214" y="303" width="5" height="5" fill="#000"/>
<rect x="1224" y="288" width="1" height="25" fill="#000"/>
<rect x="1222" y="290" width="5" height="20" fill="#000"/>
<rect x="1223" y="291" width="3" height="18" fill="#fff"/>
<rect x="1232" y="233" width="1" height="63" fill="#000"/>
<rect x="1230" y="236" width="5" height="56" fill="#000"/>
<rect x="1231" y="237" width="3" height="54" fill="#fff"/>
<rect x="1240" y="193" width="1" height="52" fill="#000"/>
<rect x="1238" y="212" width="5" height="24" fill="#000"/>
<rect x="1239" y="213" width="3" height="22" fill="#fff"/>
<rect x="1248" y="204" width="1" height="8" fill="#000"/>
<rect x="1246" y="208" width="5" height="3" fill="#000"/>
<rect x="1247" y="209" width="3" height="1" fill="#fff"/>
<rect x="1256" y="174" width="1" height="40" fill="#000"/>
<rect x="1254" y="176" width="5" height="32" fill="#000"/>
<rect x="1255" y="177" width="3" height="30" fill="#fff"/>
<rect x="1264" y="157" width="1" height="51" fill="#000"/>
<rect x="1262" y="176" width="5" height="21" fill="#000"/>
<rect x="1272" y="176" width="1" height="37" fill="#000"/>
<rect x="1270" y="197" width="5" height="8" fill="#000"/>
<rect x="1280" y="184" width="1" height="28" fill="#000"/>
<rect x="1278" y="198" width="5" height="8" fill="#000"/>
<rect x="1279" y="199" width="3" height="6" fill="#fff"/>
<rect x="1288" y="161" width="1" height="41" fill="#000"/>
<rect x="1286" y="167" width="5" height="31" fill="#000"/>
<rect x="1287" y="168" width="3" height="29" fill="#fff"/>
<rect x="1296" y="163" width="1" height="4" fill="#000"/>
<rect x="1294" y="164" width="5" height="3" fill="#000"/>
<rect x="1295" y="165" width="3" height="1" fill="#fff"/>
<rect x="1304" y="154" width="1" height="24" fill="#000"/>
<rect x="1302" y="164" width="5" height="1" fill="#000"/>
<rect x="1312" y="157" width="1" height="29" fill="#000"/>
<rect x="1310" y="164" width="5" height="6" fill="#000"/>
<rect x="1320" y="152" width="1" height="39" fill="#000"/>
<rect x="1318" y="170" width="5" height="8" fill="#000"/>
<rect x="1328" y="153" width="1" height="41" fill="#000"/>
<rect x="1326" y="177" width="5" height="1" fill="#000"/>
<rect x="1336" y="164" width="1" height="32" fill="#000"/>
<rect x="1334" y="175" width="5" height="5" fill="#000"/>
<rect x="1344" y="177" width="1" height="4" fill="#000"/>
<rect x="1342" y="179" width="5" height="1" fill="#000"/>
<rect x="1352" y="175" width="1" height="18" fill="#000"/>
<rect x="1350" y="179" width="5" height="7" fill="#000"/>
<rect x="1360" y="179" width="1" height="29" fill="#000"/>
<rect x="1358" y="185" width="5" height="15" fill="#000"/>
<rect x="1368" y="175" width="1" height="31" fill="#000"/>
<rect x="1366" y="185" width="5" height="15" fill="#000"/>
<rect x="1367" y="186" width="3" height="13" fill="#fff"/>
<rect x="1376" y="157" width="1" height="28" fill="#000"/>
<rect x="1374" y="161" width="5" height="23" fill="#000"/>
<rect x="1375" y="162" width="3" height="21" fill="#fff"/>
<rect x="1384" y="120" width="1" height="43" fill="#000"/>
<rect x="1382" y="131" width="5" height="30" fill="#000"/>
<rect x="1383" y="132" width="3" height="28" fill="#fff"/>
<rect x="1392" y="122" width="1" height="5" fill="#000"/>
<rect x="1390" y="123" width="5" height="3" fill="#000"/>
<rect x="1391" y="124" width="3" height="1" fill="#fff"/>
<rect x="1400" y="120" width="1" height="30" fill="#000"/>
<rect x="1398" y="120" width="5" height="4" fill="#000"/>
<rect x="1408" y="85" width="1" height="39" fill="#000"/>
<rect x="1406" y="92" width="5" height="28" fill="#000"/>
<rect x="1407" y="93" width="3" height="26" fill="#fff"/>
<rect x="1416" y="52" width="1" height="42" fill="#000"/>
<rect x="1414" y="70" width="5" height="22" fill="#000"/>
<rect x="1415" y="71" width="3" height="20" fill="#fff"/>
</g>
<g shape-rendering="crispEdges" fill="#c0c0c0">
<rect x="0" y="693" width="1" height="6"/>
<rect x="8" y="693" width="1" height="5"/>
<rect x="16" y="693" width="1" height="3"/>
<rect x="24" y="693" width="1" height="1"/>
<rect x="32" y="693" width="1" height="1"/>
<rect x="40" y="693" width="1" height="1"/>
<rect x="48" y="693" width="1" height="1"/>
<rect x="56" y="693" width="1" height="1"/>
<rect x="64" y="693" width="1" height="1"/>
<rect x="72" y="693" width="1" height="2"/>
<rect x="80" y="693" width="1" height="8"/>
<rect x="88" y="693" width="1" height="15"/>
<rect x="96" y="693" width="1" height="23"/>
<rect x="104" y="693" width="1" height="31"/>
<rect x="112" y="693" width="1" height="36"/>
<rect x="120" y="693" width="1" height="39"/>
<rect x="128" y="693" width="1" height="37"/>
<rect x="136" y="693" width="1" height="34"/>
<rect x="144" y="693" width="1" height="30"/>
<rect x="152" y="693" width="1" height="25"/>
<rect x="160" y="693" width="1" height="21"/>
<rect x="168" y="693" width="1" height="18"/>
<rect x="176" y="693" width="1" height="14"/>
<rect x="184" y="693" width="1" height="13"/>
<rect x="192" y="693" width="1" height="11"/>
<rect x="200" y="693" width="1" height="11"/>
<rect x="208" y="693" width="1" height="9"/>
<rect x="216" y="693" width="1" height="7"/>
<rect x="224" y="693" width="1" height="5"/>
<rect x="232" y="693" width="1" height="1"/>
<rect x="240" y="690" width="1" height="3"/>
<rect x="248" y="691" width="1" height="2"/>
<rect x="256" y="691" width="1" height="2"/>
<rect x="264" y="693" width="1" height="1"/>
<rect x="272" y="693" width="1" height="1"/>
<rect x="280" y="693" width="1" height="5"/>
<rect x="288" y="693" width="1" height="6"/>
<rect x="296" y="693" width="1" height="6"/>
<rect x="304" y="693" width="1" height="6"/>
<rect x="312" y="693" width="1" height="6"/>
<rect x="320" y="693" width="1" height="6"/>
<rect x="328" y="693" width="1" height="12"/>
<rect x="336" y="693" width="1" height="14"/>
<rect x="344" y="693" width="1" height="18"/>
<rect x="352" y="693" width="1" height="21"/>
<rect x="360" y="693" width="1" height="21"/>
<rect x="368" y="693" width="1" height="24"/>
<rect x="376" y="693" width="1" height="28"/>
<rect x="384" y="693" width="1" height="29"/>
<rect x="392" y="693" width="1" height="28"/>
<rect x="400" y="693" width="1" height="28"/>
<rect x="408" y="693" width="1" height="26"/>
<rect x="416" y="693" width="1" height="26"/>
<rect x="424" y="693" width="1" height="27"/>
<rect x="432" y="693" width="1" height="34"/>
<rect x="440" y="693" width="1" height="42"/>
<rect x="448" y="693" width="1" height="48"/>
<rect x="456" y="693" width="1" height="36"/>
<rect x="464" y="693" width="1" height="26"/>
<rect x="472" y="693" width="1" height="16"/>
<rect x="480" y="693" width="1" height="11"/>
<rect x="488" y="693" width="1" height="10"/>
<rect x="496" y="693" width="1" height="10"/>
<rect x="504" y="693" width="1" height="10"/>
<rect x="512" y="693" width="1" height="13"/>
<rect x="520" y="693" width="1" height="18"/>
<rect x="528" y="693" width="1" height="22"/>
<rect x="536" y="693" width="1" height="25"/>
<rect x="544" y="693" width="1" height="27"/>
<rect x="552" y="693" width="1" height="23"/>
<rect x="560" y="693" width="1" height="19"/>
<rect x="568" y="693" width="1" height="17"/>
<rect x="576" y="693" width="1" height="16"/>
<rect x="584" y="693" width="1" height="17"/>
<rect x="592" y="693" width="1" height="17"/>
<rect x="600" y="693" width="1" height="16"/>
<rect x="608" y="693" width="1" height="14"/>
<rect x="616" y="693" width="1" height="11"/>
<rect x="624" y="693" width="1" height="14"/>
<rect x="632" y="693" width="1" height="14"/>
<rect x="640" y="693" width="1" height="13"/>
<rect x="648" y="693" width="1" height="14"/>
<rect x="656" y="693" width="1" height="13"/>
<rect x="664" y="693" width="1" height="11"/>
<rect x="672" y="693" width="1" height="10"/>
<rect x="680" y="693" width="1" height="11"/>
<rect x="688" y="693" width="1" height="12"/>
<rect x="696" y="693" width="1" height="12"/>
<rect x="704" y="693" width="1" height="15"/>
<rect x="712" y="693" width="1" height="19"/>
<rect x="720" y="693" width="1" height="24"/>
<rect x="728" y="693" width="1" height="26"/>
<rect x="736" y="693" width="1" height="27"/>
<rect x="744" y="693" width="1" height="28"/>
<rect x="752" y="693" width="1" height="27"/>
<rect x="760" y="693" width="1" height="26"/>
<rect x="768" y="693" width="1" height="25"/>
<rect x="776" y="693" width="1" height="23"/>
<rect x="784" y="693" width="1" height="21"/>
<rect x="792" y="693" width="1" height="20"/>
<rect x="800" y="693" width="1" height="22"/>
<rect x="808" y="693" width="1" height="23"/>
<rect x="816" y="693" width="1" height="23"/>
<rect x="824" y="693" width="1" height="24"/>
<rect x="832" y="693" width="1" height="28"/>
<rect x="840" y="693" width="1" height="28"/>
<rect x="848" y="693" width="1" height="22"/>
<rect x="856" y="693" width="1" height="15"/>
<rect x="864" y="693" width="1" height="9"/>
<rect x="872" y="693" width="1" height="3"/>
<rect x="880" y="693" width="1" height="2"/>
<rect x="888" y="693" width="1" height="1"/>
<rect x="896" y="692" width="1" height="1"/>
<rect x="904" y="691" width="1" height="2"/>
<rect x="912" y="689" width="1" height="4"/>
<rect x="920" y="690" width="1" height="3"/>
<rect x="928" y="689" width="1" height="4"/>
<rect x="936" y="691" width="1" height="2"/>
<rect x="944" y="693" width="1" height="1"/>
<rect x="952" y="692" width="1" height="1"/>
<rect x="960" y="691" width="1" height="2"/>
<rect x="968" y="691" width="1" height="2"/>
<rect x="976" y="693" width="1" height="1"/>
<rect x="984" y="689" width="1" height="4"/>
<rect x="992" y="685" width="1" height="8"/>
<rect x="1000" y="679" width="1" height="14"/>
<rect x="1008" y="674" width="1" height="19"/>
<rect x="1016" y="669" width="1" height="24"/>
<rect x="1024" y="664" width="1" height="29"/>
<rect x="1032" y="661" width="1" height="32"/>
<rect x="1040" y="654" width="1" height="39"/>
<rect x="1048" y="650" width="1" height="43"/>
<rect x="1056" y="648" width="1" height="45"/>
<rect x="1064" y="648" width="1" height="45"/>
<rect x="1072" y="654" width="1" height="39"/>
<rect x="1080" y="659" width="1" height="34"/>
<rect x="1088" y="662" width="1" height="31"/>
<rect x="1096" y="663" width="1" height="30"/>
<rect x="1104" y="663" width="1" height="30"/>
<rect x="1112" y="661" width="1" height="32"/>
<rect x="1120" y="654" width="1" height="39"/>
<rect x="1128" y="651" width="1" height="42"/>
<rect x="1136" y="651" width="1" height="42"/>
<rect x="1144" y="653" width="1" height="40"/>
<rect x="1152" y="654" width="1" height="39"/>
<rect x="1160" y="660" width="1" height="33"/>
<rect x="1168" y="662" width="1" height="31"/>
<rect x="1176" y="659" width="1" height="34"/>
<rect x="1184" y="654" width="1" height="39"/>
<rect x="1192" y="648" width="1" height="45"/>
<rect x="1200" y="645" width="1" height="48"/>
<rect x="1208" y="640" width="1" height="53"/>
<rect x="1216" y="638" width="1" height="55"/>
<rect x="1224" y="634" width="1" height="59"/>
<rect x="1232" y="625" width="1" height="68"/>
<rect x="1240" y="615" width="1" height="78"/>
<rect x="1248" y="607" width="1" height="86"/>
<rect x="1256" y="598" width="1" height="95"/>
<rect x="1264" y="595" width="1" height="98"/>
<rect x="1272" y="595" width="1" height="98"/>
<rect x="1280" y="594" width="1" height="99"/>
<rect x="1288" y="591" width="1" height="102"/>
<rect x="1296" y="590" width="1" height="103"/>
<rect x="1304" y="590" width="1" height="103"/>
<rect x="1312" y="591" width="1" height="102"/>
<rect x="1320" y="595" width="1" height="98"/>
<rect x="1328" y="599" width="1" height="94"/>
<rect x="1336" y="604" width="1" height="89"/>
<rect x="1344" y="608" width="1" height="85"/>
<rect x="1352" y="613" width="1" height="80"/>
<rect x="1360" y="620" width="1" height="73"/>
<rect x="1368" y="625" width="1" height="68"/>
<rect x="1376" y="626" width="1" height="67"/>
<rect x="1384" y="623" width="1" height="70"/>
<rect x="1392" y="621" width="1" height="72"/>
<rect x="1400" y="620" width="1" height="73"/>
<rect x="1408" y="616" width="1" height="77"/>
<rect x="1416" y="610" width="1" height="83"/>
</g>
<polyline fill="none" stroke="#ff0000" stroke-width="1" stroke-dasharray="3,3" shape-rendering="crispEdges" points="0.5,702.8 8.5,702.3 16.5,701.8 24.5,700.8 32.5,699.8 40.5,698.8 48.5,697.7 56.5,696.6 64.5,695.5 72.5,695.1 80.5,694.7 88.5,696.2 96.5,697.7 104.5,701.3 112.5,704.8 120.5,709.3 128.5,713.7 136.5,717.5 144.5,721.1 152.5,722.6 160.5,723.5 168.5,722.8 176.5,721.1 184.5,718.5 192.5,715.6 200.5,712.6 208.5,709.9 216.5,707.4 224.5,705.2 232.5,703.0 240.5,700.6 248.5,698.7 256.5,697.0 264.5,695.8 272.5,694.8 280.5,694.3 288.5,694.2 296.5,694.4 304.5,695.0 312.5,696.0 320.5,696.9 328.5,698.4 336.5,700.0 344.5,701.8 352.5,703.5 360.5,705.3 368.5,707.3 376.5,709.7 384.5,712.2 392.5,714.7 400.5,716.5 408.5,717.8 416.5,718.7 424.5,719.4 432.5,720.7 440.5,722.7 448.5,724.9 456.5,725.7 464.5,725.4 472.5,724.1 480.5,722.4 488.5,720.6 496.5,718.7 504.5,716.1 512.5,712.9 520.5,709.6 528.5,708.1 536.5,708.0 544.5,709.3 552.5,710.6 560.5,711.5 568.5,712.3 576.5,713.0 584.5,713.4 592.5,713.3 600.5,712.6 608.5,711.4 616.5,709.6 624.5,708.7 632.5,708.2 640.5,707.8 648.5,707.6 656.5,707.1 664.5,706.4 672.5,705.9 680.5,705.6 688.5,705.6 696.5,705.4 704.5,705.5 712.5,706.1 720.5,707.2 728.5,708.6 736.5,710.3 744.5,712.3 752.5,714.0 760.5,715.5 768.5,716.9 776.5,717.8 784.5,718.1 792.5,717.6 800.5,717.1 808.5,716.8 816.5,716.3 824.5,716.0 832.5,716.3 840.5,716.7 848.5,716.5 856.5,715.9 864.5,714.7 872.5,712.5 880.5,710.2 888.5,707.6 896.5,704.8 904.5,701.3 912.5,697.8 920.5,695.0 928.5,692.8 936.5,691.6 944.5,691.3 952.5,690.9 960.5,690.7 968.5,690.7 976.5,690.9 984.5,690.9 992.5,690.3 1000.5,689.2 1008.5,687.3 1016.5,684.6 1024.5,681.5 1032.5,678.1 1040.5,674.0 1048.5,669.2 1056.5,664.6 1064.5,660.5 1072.5,657.9 1080.5,656.3 1088.5,655.6 1096.5,655.5 1104.5,655.8 1112.5,656.7 1120.5,657.2 1128.5,657.5 1136.5,657.8 1144.5,657.6 1152.5,657.0 1160.5,656.7 1168.5,656.6 1176.5,656.2 1184.5,655.3 1192.5,654.6 1200.5,653.9 1208.5,652.7 1216.5,651.1 1224.5,648.9 1232.5,645.0 1240.5,639.7 1248.5,633.9 1256.5,627.7 1264.5,621.8 1272.5,616.2 1280.5,611.2 1288.5,606.0 1296.5,601.1 1304.5,597.2 1312.5,594.6 1320.5,593.3 1328.5,593.3 1336.5,594.3 1344.5,595.8 1352.5,597.9 1360.5,601.1 1368.5,605.0 1376.5,609.0 1384.5,612.5 1392.5,615.4 1400.5,617.7 1408.5,619.1 1416.5,619.3"/>
<polyline fill="none" stroke="#1e90ff" stroke-width="1" shape-rendering="crispEdges" points="0.5,838.4 8.5,836.5 16.5,834.4 24.5,834.4 32.5,840.8 40.5,836.5 48.5,838.4 56.5,839.6 64.5,838.4 72.5,847.2 80.5,854.8 88.5,860.6 96.5,866.2 104.5,868.1 112.5,869.4 120.5,863.8 128.5,852.4 136.5,845.5 144.5,842.0 152.5,837.7 160.5,838.4 168.5,842.0 176.5,835.8 184.5,842.0 192.5,839.6 200.5,843.5 208.5,839.7 216.5,833.5 224.5,835.8 232.5,826.1 240.5,824.3 248.5,838.6 256.5,838.9 264.5,847.6 272.5,843.4 280.5,852.8 288.5,845.5 296.5,843.6 304.5,843.1 312.5,842.0 320.5,841.1 328.5,864.7 336.5,855.9 344.5,859.6 352.5,861.0 360.5,855.0 368.5,863.4 376.5,868.0 384.5,857.6 392.5,853.1 400.5,856.3 408.5,850.0 416.5,855.7 424.5,858.6 432.5,876.1 440.5,882.1 448.5,880.3 456.5,830.1 464.5,827.9 472.5,825.4 480.5,832.6 488.5,842.1 496.5,841.1 504.5,844.2 512.5,851.0 520.5,856.3 528.5,857.7 536.5,857.3 544.5,857.5 552.5,838.1 560.5,838.4 568.5,841.5 576.5,845.1 584.5,850.2 592.5,848.5 600.5,842.1 608.5,842.1 616.5,837.6 624.5,853.8 632.5,845.8 640.5,843.7 648.5,848.2 656.5,843.8 664.5,839.3 672.5,842.9 680.5,847.9 688.5,848.6 696.5,847.2 704.5,858.2 712.5,862.1 720.5,869.6 728.5,862.9 736.5,855.6 744.5,859.6 752.5,852.2 760.5,851.9 768.5,851.9 776.5,851.1 784.5,844.3 792.5,850.0 800.5,863.0 808.5,858.3 816.5,856.7 824.5,860.5 832.5,872.4 840.5,856.6 848.5,831.7 856.5,829.2 864.5,824.6 872.5,823.5 880.5,836.7 888.5,834.1 896.5,833.7 904.5,833.8 912.5,831.1 920.5,839.2 928.5,832.4 936.5,844.2 944.5,845.7 952.5,834.4 960.5,836.6 968.5,837.4 976.5,843.5 984.5,825.8 992.5,821.4 1000.5,811.3 1008.5,811.9 1016.5,808.4 1024.5,805.4 1032.5,806.4 1040.5,796.1 1048.5,802.4 1056.5,804.6 1064.5,812.8 1072.5,835.8 1080.5,834.2 1088.5,830.3 1096.5,824.8 1104.5,822.1 1112.5,814.7 1120.5,801.5 1128.5,811.0 1136.5,817.7 1144.5,822.9 1152.5,821.7 1160.5,838.2 1168.5,830.8 1176.5,817.8 1184.5,810.7 1192.5,807.4 1200.5,811.8 1208.5,806.3 1216.5,809.0 1224.5,804.7 1232.5,794.3 1240.5,790.7 1248.5,790.1 1256.5,785.7 1264.5,796.4 1272.5,800.1 1280.5,798.9 1288.5,793.5 1296.5,793.0 1304.5,793.0 1312.5,796.7 1320.5,801.4 1328.5,801.0 1336.5,803.2 1344.5,802.9 1352.5,807.9 1360.5,817.8 1368.5,812.0 1376.5,804.5 1384.5,796.7 1392.5,795.0 1400.5,795.7 1408.5,788.9 1416.5,785.1"/>
</svg>
<svg width="1734" height="943" viewBox="0 0 1734 943" style="position:absolute;left:0;top:0">
<g shape-rendering="crispEdges" fill="#000">
<rect x="1688" y="145" width="3" height="1"/>
<rect x="1688" y="178" width="3" height="1"/>
<rect x="1688" y="212" width="3" height="1"/>
<rect x="1688" y="244" width="3" height="1"/>
<rect x="1688" y="278" width="3" height="1"/>
<rect x="1688" y="311" width="3" height="1"/>
<rect x="1688" y="343" width="3" height="1"/>
<rect x="1688" y="376" width="3" height="1"/>
<rect x="1688" y="409" width="3" height="1"/>
<rect x="1688" y="442" width="3" height="1"/>
<rect x="1688" y="475" width="3" height="1"/>
<rect x="1688" y="508" width="3" height="1"/>
<rect x="1688" y="541" width="3" height="1"/>
<rect x="1688" y="574" width="3" height="1"/>
<rect x="1688" y="46" width="3" height="1"/>
<rect x="1688" y="582" width="3" height="1"/><rect x="1688" y="693" width="3" height="1"/><rect x="1688" y="748" width="3" height="1"/>
<rect x="1688" y="753" width="3" height="1"/><rect x="1688" y="787" width="3" height="1"/><rect x="1688" y="839" width="3" height="1"/><rect x="1688" y="899" width="3" height="1"/><rect x="1688" y="924" width="3" height="1"/>
</g>
<g font-family='"Liberation Sans", sans-serif' font-size="9.6" fill="#000" stroke="#000" stroke-width="0.15">
<text x="1693.5" y="149.0" textLength="32" lengthAdjust="spacingAndGlyphs">109.420</text>
<text x="1693.5" y="182.0" textLength="32" lengthAdjust="spacingAndGlyphs">108.880</text>
<text x="1693.5" y="215.1" textLength="32" lengthAdjust="spacingAndGlyphs">108.340</text>
<text x="1693.5" y="248.1" textLength="32" lengthAdjust="spacingAndGlyphs">107.800</text>
<text x="1693.5" y="281.2" textLength="32" lengthAdjust="spacingAndGlyphs">107.260</text>
<text x="1693.5" y="314.2" textLength="32" lengthAdjust="spacingAndGlyphs">106.720</text>
<text x="1693.5" y="346.4" textLength="32" lengthAdjust="spacingAndGlyphs">106.195</text>
<text x="1693.5" y="379.4" textLength="32" lengthAdjust="spacingAndGlyphs">105.655</text>
<text x="1693.5" y="412.5" textLength="32" lengthAdjust="spacingAndGlyphs">105.115</text>
<text x="1693.5" y="445.5" textLength="32" lengthAdjust="spacingAndGlyphs">104.575</text>
<text x="1693.5" y="478.6" textLength="32" lengthAdjust="spacingAndGlyphs">104.035</text>
<text x="1693.5" y="511.6" textLength="32" lengthAdjust="spacingAndGlyphs">103.495</text>
<text x="1693.5" y="544.7" textLength="32" lengthAdjust="spacingAndGlyphs">102.955</text>
<text x="1693.5" y="577.7" textLength="32" lengthAdjust="spacingAndGlyphs">102.415</text>
<text x="1693.5" y="49.9" textLength="32" lengthAdjust="spacingAndGlyphs">111.040</text>
<text x="1691" y="591">1.0779</text>
<text x="1691" y="697">0.00</text>
<text x="1691" y="746">-0.5289</text>
<text x="1691" y="762">100</text>
<text x="1691" y="791">80</text>
<text x="1691" y="842">50</text>
<text x="1691" y="903">15</text>
<text x="1691" y="922">0</text>
<text x="4.5" y="591.5" textLength="127" lengthAdjust="spacingAndGlyphs">MACD(12,26,9) 0.8060 0.7191</text>
<text x="4.5" y="763.5" textLength="67" lengthAdjust="spacingAndGlyphs">RSI(14) 81.4372</text>
</g>
<g shape-rendering="crispEdges">
<rect x="0" y="32" width="1687" height="1" fill="#ff0000"/>
<rect x="0" y="51" width="1687" height="1" fill="#ff0000"/>
<rect x="0" y="69" width="1687" height="1" fill="#c0c0c0"/>
<rect x="0" y="80" width="1687" height="1" fill="#00c8d2"/>
<rect x="0" y="95" width="1687" height="1" fill="#0000ff"/>
<rect x="0" y="112" width="1687" height="1" fill="#0000ff"/>
<rect x="1682.5" y="30.5" width="4" height="4" fill="#fff" stroke="#ff0000"/>
<rect x="0.5" y="30.5" width="4" height="4" fill="#fff" stroke="#ff0000"/>
<rect x="1682.5" y="49.5" width="4" height="4" fill="#fff" stroke="#ff0000"/>
<rect x="0.5" y="49.5" width="4" height="4" fill="#fff" stroke="#ff0000"/>
<rect x="1682.5" y="93.5" width="4" height="4" fill="#fff" stroke="#0000ff"/>
<rect x="0.5" y="93.5" width="4" height="4" fill="#fff" stroke="#0000ff"/>
<rect x="1682.5" y="110.5" width="4" height="4" fill="#fff" stroke="#0000ff"/>
<rect x="0.5" y="110.5" width="4" height="4" fill="#fff" stroke="#0000ff"/>
</g>
<g font-family='"Liberation Sans", sans-serif' font-size="9" fill="#000">
<text x="15.5" y="36" textLength="210" lengthAdjust="spacingAndGlyphs" xml:space="preserve">USDJPY-,Daily  110.303 110.957 110.268 110.668</text>
</g>
<path d="M3.5,35.5 L7,30.5 L10.5,35.5 Z" fill="#000"/>
<path d="M1428,25 L1437,25 L1432.5,30 Z" fill="#b4b4b4"/>
<rect x="1689" y="26" width="41" height="11" fill="#ff0000" shape-rendering="crispEdges"/>
<text x="1693.5" y="35" font-family='"Liberation Sans", sans-serif' font-size="9" fill="#fff" textLength="31.6" lengthAdjust="spacingAndGlyphs">111.266</text>
<rect x="1689" y="46" width="41" height="11" fill="#ff0000" shape-rendering="crispEdges"/>
<text x="1693.5" y="55" font-family='"Liberation Sans", sans-serif' font-size="9" fill="#fff" textLength="31.6" lengthAdjust="spacingAndGlyphs">110.956</text>
<rect x="1689" y="64" width="41" height="11" fill="#000000" shape-rendering="crispEdges"/>
<text x="1693.5" y="73" font-family='"Liberation Sans", sans-serif' font-size="9" fill="#fff" textLength="31.6" lengthAdjust="spacingAndGlyphs">110.668</text>
<rect x="1689" y="74" width="41" height="11" fill="#20c8c8" shape-rendering="crispEdges"/>
<text x="1693.5" y="83" font-family='"Liberation Sans", sans-serif' font-size="9" fill="#fff" textLength="31.6" lengthAdjust="spacingAndGlyphs">110.482</text>
<rect x="1689" y="89" width="41" height="11" fill="#0000ff" shape-rendering="crispEdges"/>
<text x="1693.5" y="98" font-family='"Liberation Sans", sans-serif' font-size="9" fill="#fff" textLength="31.6" lengthAdjust="spacingAndGlyphs">110.237</text>
<rect x="1689" y="106" width="41" height="11" fill="#0000ff" shape-rendering="crispEdges"/>
<text x="1693.5" y="115" font-family='"Liberation Sans", sans-serif' font-size="9" fill="#fff" textLength="31.6" lengthAdjust="spacingAndGlyphs">109.960</text>
<rect x="1333" y="78" width="164" height="6" fill="#00ff00" shape-rendering="crispEdges"/>
<rect x="1193.5" y="71.5" width="61" height="18" fill="#fff" stroke="#ff0000" shape-rendering="crispEdges"/>
<text x="1196" y="86" font-family='"Liberation Sans", sans-serif' font-size="16" fill="#ff0000">110.482</text>
<rect x="1254" y="80" width="11" height="1" fill="#ff0000" shape-rendering="crispEdges"/>
<rect x="1233.5" y="140.5" width="61" height="18" fill="#fff" stroke="#ff0000" shape-rendering="crispEdges"/>
<text x="1236" y="155" font-family='"Liberation Sans", sans-serif' font-size="16" fill="#ff0000">109.357</text>
<rect x="1294" y="149" width="11" height="1" fill="#ff0000" shape-rendering="crispEdges"/>
<rect x="1289.5" y="199.5" width="61" height="18" fill="#fff" stroke="#ff0000" shape-rendering="crispEdges"/>
<text x="1292" y="214" font-family='"Liberation Sans", sans-serif' font-size="16" fill="#ff0000">108.393</text>
<rect x="1350" y="208" width="11" height="1" fill="#ff0000" shape-rendering="crispEdges"/>
<rect x="1360" y="202" width="1" height="7" fill="#ff0000"/>
<rect x="1255.5" y="78.5" width="2" height="3" fill="#fff" stroke="#ff0000"/>
<line x1="1172" y1="377" x2="1304.1" y2="148.6" stroke="#ff0000" stroke-width="2.7"/><polyline points="1302.5,158.6 1304.6,147.7 1296.2,155.0" fill="#ff0000" stroke="#ff0000" stroke-width="2.7" stroke-linejoin="miter" stroke-miterlimit="3"/>
<line x1="1305" y1="147" x2="1360.7" y2="200.8" stroke="#ff0000" stroke-width="2.7"/><polyline points="1351.4,196.7 1361.4,201.4 1356.4,191.6" fill="#ff0000" stroke="#ff0000" stroke-width="2.7" stroke-linejoin="miter" stroke-miterlimit="3"/>
<line x1="1365" y1="204" x2="1439.3" y2="29.7" stroke="#ff0000" stroke-width="2.7"/><polyline points="1438.9,39.8 1439.7,28.7 1432.3,37.0" fill="#ff0000" stroke="#ff0000" stroke-width="2.7" stroke-linejoin="miter" stroke-miterlimit="3"/>
<line x1="1368" y1="636" x2="1462.3" y2="610.0" stroke="#ff0000" stroke-width="2.7"/><polyline points="1454.1,616.0 1463.2,609.7 1452.1,609.0" fill="#ff0000" stroke="#ff0000" stroke-width="2.7" stroke-linejoin="miter" stroke-miterlimit="3"/>
<line x1="1364" y1="820" x2="1416.6" y2="780.1" stroke="#ff0000" stroke-width="2.7"/><polyline points="1411.2,788.7 1417.4,779.5 1406.8,783.0" fill="#ff0000" stroke="#ff0000" stroke-width="2.7" stroke-linejoin="miter" stroke-miterlimit="3"/>
<path transform="translate(1506.50,93) scale(1.5500)" d="M5.5,0.3 L1.5,3.3 M4,1.6 H9 L2.5,6.3 M2.8,3.4 L5,5 M7.5,5 L1,11.6 M6,6.3 H11 L3,11.6 M4.6,8 L6.6,9.5" fill="none" stroke="#00ff00" stroke-width="0.774"/><path transform="translate(1527.70,93) scale(1.5500)" d="M6,0 V1.6 M1,4 V2 H11 V4 M4.6,3.3 L2,6 M7.4,3.3 L10,6 M2,7.4 H10 M6,7.4 V11 M0.5,11 H11.5" fill="none" stroke="#00ff00" stroke-width="0.774"/><path transform="translate(1548.90,93) scale(1.5500)" d="M0.5,2 H5 M3,0.3 L1.4,6.5 H5 M3,4 V11.6 M0.3,9 H5.4 M6,2.6 H11.6 M6,5 H11.6 M9,0.3 L7.6,7.5 H11 L9,10 M8,9 L10,11.6" fill="none" stroke="#00ff00" stroke-width="0.774"/><path transform="translate(1570.10,93) scale(1.5500)" d="M0.4,4 H4.6 M2.6,0.4 V11 L1.6,10 M0.4,8.6 L4.6,6.6 M11,0.8 L6.6,2.4 V7 Q6.6,10 5.6,11.6 M6.6,5.4 H11.6 M9.2,5.4 V11.6" fill="none" stroke="#00ff00" stroke-width="0.774"/><path transform="translate(1591.30,93) scale(1.5500)" d="M6,0.4 V4.2 M6,2.4 H10.6 M2.6,4.4 H9.6 V8 H2.6 Z M1.6,10 L0.5,11.6 M4.6,10 L4.1,11.6 M7.4,10 L7.9,11.6 M10.4,10 L11.6,11.6" fill="none" stroke="#00ff00" stroke-width="0.774"/>
</svg>
<svg width="1734" height="24" viewBox="0 0 1734 24" style="position:absolute;left:0;top:0">
<rect x="0" y="0" width="1734" height="20" fill="#f0f0f0"/>
<rect x="0" y="19" width="1734" height="1" fill="#c8c8c8"/>
<rect x="0" y="20" width="1734" height="2" fill="#9a9a9a"/>
<rect x="0" y="22" width="1734" height="2" fill="#fff"/>
<rect x="48" y="1" width="1" height="17" fill="#a8a8a8"/><rect x="49" y="1" width="1" height="17" fill="#fff"/>
<rect x="284" y="1" width="1" height="17" fill="#a8a8a8"/><rect x="285" y="1" width="1" height="17" fill="#fff"/>
<rect x="322" y="1" width="1" height="17" fill="#a8a8a8"/><rect x="323" y="1" width="1" height="17" fill="#fff"/>
<rect x="379" y="1" width="1" height="17" fill="#a8a8a8"/><rect x="380" y="1" width="1" height="17" fill="#fff"/>
<rect x="469" y="1" width="1" height="17" fill="#a8a8a8"/><rect x="470" y="1" width="1" height="17" fill="#fff"/>
<rect x="502" y="1" width="1" height="17" fill="#a8a8a8"/><rect x="503" y="1" width="1" height="17" fill="#fff"/>
<rect x="531" y="1" width="1" height="17" fill="#a8a8a8"/><rect x="532" y="1" width="1" height="17" fill="#fff"/>
<rect x="652" y="1" width="1" height="17" fill="#a8a8a8"/><rect x="653" y="1" width="1" height="17" fill="#fff"/>
<rect x="720" y="1" width="1" height="17" fill="#a8a8a8"/><rect x="721" y="1" width="1" height="17" fill="#fff"/>
<rect x="958" y="1" width="1" height="17" fill="#a8a8a8"/><rect x="959" y="1" width="1" height="17" fill="#fff"/>
<rect x="1219" y="1" width="1" height="17" fill="#a8a8a8"/><rect x="1220" y="1" width="1" height="17" fill="#fff"/>
<rect x="288" y="2" width="3" height="1" fill="#b0b0b0"/>
<rect x="288" y="4" width="3" height="1" fill="#b0b0b0"/>
<rect x="288" y="6" width="3" height="1" fill="#b0b0b0"/>
<rect x="288" y="8" width="3" height="1" fill="#b0b0b0"/>
<rect x="288" y="10" width="3" height="1" fill="#b0b0b0"/>
<rect x="288" y="12" width="3" height="1" fill="#b0b0b0"/>
<rect x="288" y="14" width="3" height="1" fill="#b0b0b0"/>
<rect x="288" y="16" width="3" height="1" fill="#b0b0b0"/>
<rect x="474" y="2" width="3" height="1" fill="#b0b0b0"/>
<rect x="474" y="4" width="3" height="1" fill="#b0b0b0"/>
<rect x="474" y="6" width="3" height="1" fill="#b0b0b0"/>
<rect x="474" y="8" width="3" height="1" fill="#b0b0b0"/>
<rect x="474" y="10" width="3" height="1" fill="#b0b0b0"/>
<rect x="474" y="12" width="3" height="1" fill="#b0b0b0"/>
<rect x="474" y="14" width="3" height="1" fill="#b0b0b0"/>
<rect x="474" y="16" width="3" height="1" fill="#b0b0b0"/>
<rect x="657" y="2" width="3" height="1" fill="#b0b0b0"/>
<rect x="657" y="4" width="3" height="1" fill="#b0b0b0"/>
<rect x="657" y="6" width="3" height="1" fill="#b0b0b0"/>
<rect x="657" y="8" width="3" height="1" fill="#b0b0b0"/>
<rect x="657" y="10" width="3" height="1" fill="#b0b0b0"/>
<rect x="657" y="12" width="3" height="1" fill="#b0b0b0"/>
<rect x="657" y="14" width="3" height="1" fill="#b0b0b0"/>
<rect x="657" y="16" width="3" height="1" fill="#b0b0b0"/>
<rect x="963" y="2" width="3" height="1" fill="#b0b0b0"/>
<rect x="963" y="4" width="3" height="1" fill="#b0b0b0"/>
<rect x="963" y="6" width="3" height="1" fill="#b0b0b0"/>
<rect x="963" y="8" width="3" height="1" fill="#b0b0b0"/>
<rect x="963" y="10" width="3" height="1" fill="#b0b0b0"/>
<rect x="963" y="12" width="3" height="1" fill="#b0b0b0"/>
<rect x="963" y="14" width="3" height="1" fill="#b0b0b0"/>
<rect x="963" y="16" width="3" height="1" fill="#b0b0b0"/>
<rect x="323" y="0" width="24" height="18" fill="#f7f7f7"/>
<rect x="663" y="0" width="24" height="18" fill="#f7f7f7"/>
<rect x="1137" y="0" width="24" height="18" fill="#f7f7f7"/>
<rect x="-3" y="1.5" width="13" height="13" fill="#fff" stroke="#3f7fcf" rx="1"/>
<rect x="1" y="4" width="8" height="1" fill="#bcd3f0"/>
<rect x="1" y="6" width="8" height="1" fill="#bcd3f0"/>
<rect x="1" y="8" width="8" height="1" fill="#bcd3f0"/>
<rect x="1" y="10" width="8" height="1" fill="#bcd3f0"/>
<rect x="-1" y="4" width="2" height="1" fill="#e03030"/>
<rect x="-1" y="7" width="2" height="1" fill="#e03030"/>
<rect x="-1" y="10" width="2" height="1" fill="#e03030"/>
<rect x="23.5" y="0.5" width="11" height="13" fill="#f4f2ea" stroke="#a89f88"/>
<circle cx="31" cy="9" r="4.5" fill="#cfe0f0" stroke="#5a8ed0" stroke-width="1.2"/>
<line x1="34.5" y1="12.5" x2="40" y2="17" stroke="#c8a030" stroke-width="2"/>
<path d="M58.5,0.5 H66 L69.5,4 V13.5 H58.5 Z" fill="#fff" stroke="#808080"/>
<rect x="60" y="3" width="4" height="1" fill="#909090"/><rect x="60" y="6" width="7" height="1" fill="#909090"/><rect x="60" y="9" width="5" height="1" fill="#909090"/>
<path d="M65.5,7 H69.5 V10.5 H73.5 V14 H69.5 V17.5 H65.5 V14 H62 V10.5 H65.5 Z" fill="#2ad02a" stroke="#108010" stroke-width="0.8"/>
<defs><linearGradient id="gold" x1="0" y1="0" x2="1" y2="1"><stop offset="0" stop-color="#f8e070"/><stop offset="1" stop-color="#d0a020"/></linearGradient><linearGradient id="cld" x1="0" y1="0" x2="0" y2="1"><stop offset="0" stop-color="#ffffff"/><stop offset="1" stop-color="#b8c8e0"/></linearGradient></defs>
<path d="M125.5,9.5 L131,1.5 L140,8.5 L133.5,15.5 Z" fill="url(#gold)" stroke="#a86a10" stroke-width="0.9"/>
<path d="M127,11 L134,14.5 L139,9" fill="none" stroke="#f8f0c0" stroke-width="0.8"/>
<rect x="155" y="0" width="10.5" height="10" fill="#2a8ae8" stroke="#1a5ab0" stroke-width="0.8"/>
<rect x="158.5" y="3" width="6" height="5" fill="#c8e8ff"/>
<path d="M154,15.5 Q152.5,11.5 156.5,11.5 Q158,8 162,9.5 Q166.5,8.5 167,12 Q169.5,12.5 168.5,15.5 Z" fill="url(#cld)" stroke="#5870a0" stroke-width="0.9"/>
<g fill="none" stroke-width="1.1"><path d="M185,13.5 A7,7 0 0 1 188.8,0.6" stroke="#4a7ad8"/><path d="M188.8,0.6 A7,7 0 0 1 192.6,13.5" stroke="#8ac0a0"/><path d="M186.7,11 A4,4 0 0 1 188.8,3.6" stroke="#3a6ad0"/><path d="M188.8,3.6 A4,4 0 0 1 191,11" stroke="#70b090"/></g>
<circle cx="188.8" cy="7.6" r="1.7" fill="#2050c0"/><rect x="188.3" y="8" width="1.3" height="7.5" fill="#20b020"/><path d="M189.5,15.5 Q194,14 195.5,10" fill="none" stroke="#50b060" stroke-width="1"/>
<path d="M208.5,13 L216,6 L224,6 L216.5,15.5 Z" fill="#f0d850" stroke="#c8a020" stroke-width="0.8"/>
<ellipse cx="216" cy="4.5" rx="7.8" ry="2.6" fill="#58a8e0" stroke="#2a70b0" stroke-width="0.7"/><ellipse cx="216" cy="2.5" rx="3" ry="2.5" fill="#78c0f0"/>
<circle cx="220.6" cy="11.6" r="4" fill="#d82010"/><rect x="219" y="10" width="3.2" height="3.2" fill="#fff"/>
<rect x="302" y="2" width="1" height="13" fill="#505050"/><rect x="300" y="14" width="14" height="1" fill="#505050"/>
<path d="M305,12 H307 V5 H309" stroke="#20a040" fill="none"/>
<rect x="330" y="2" width="1" height="13" fill="#505050"/><rect x="328" y="14" width="14" height="1" fill="#505050"/>
<rect x="333" y="3.5" width="4" height="8" fill="#30c050" stroke="#207030"/><rect x="335" y="1" width="1" height="13" fill="#207030"/>
<rect x="358" y="2" width="1" height="13" fill="#505050"/><rect x="356" y="14" width="14" height="1" fill="#505050"/>
<path d="M358,11 Q363,3 366,6 L370,10" stroke="#30a050" fill="none"/>
<circle cx="394" cy="6.5" r="5" fill="#d8e8f8" stroke="#3a7ad0" stroke-width="1.5"/>
<line x1="397.5" y1="10" x2="403" y2="15.5" stroke="#c89a20" stroke-width="2.2"/>
<rect x="391.5" y="6" width="5" height="1.5" fill="#3a6ac0"/>
<rect x="393.25" y="4" width="1.5" height="5.5" fill="#3a6ac0"/>
<circle cx="421" cy="6.5" r="5" fill="#d8e8f8" stroke="#3a7ad0" stroke-width="1.5"/>
<line x1="424.5" y1="10" x2="430" y2="15.5" stroke="#c89a20" stroke-width="2.2"/>
<rect x="418.5" y="6" width="5" height="1.5" fill="#3a6ac0"/>
<rect x="444" y="0" width="7.5" height="7.5" fill="#30a040"/><rect x="452.5" y="0" width="7.5" height="7.5" fill="#2a70d0"/><rect x="444" y="8.5" width="7.5" height="7.5" fill="#2a70d0"/><rect x="452.5" y="8.5" width="7.5" height="7.5" fill="#30a040"/>
<rect x="445.5" y="3" width="4.5" height="2" fill="#fff"/>
<rect x="454" y="3" width="4.5" height="2" fill="#fff"/>
<rect x="445.5" y="11.5" width="4.5" height="2" fill="#fff"/>
<rect x="454" y="11.5" width="4.5" height="2" fill="#fff"/>
<rect x="482" y="2" width="1" height="13" fill="#505050"/><rect x="480" y="14" width="14" height="1" fill="#505050"/>
<path d="M487,4 V10 L491,7 Z" fill="#30b040"/>
<rect x="510" y="2" width="1" height="13" fill="#505050"/><rect x="508" y="14" width="14" height="1" fill="#505050"/>
<rect x="515" y="2" width="1" height="11" fill="#3060c0"/><path d="M521,7 H517 M519,5 L517,7 L519,9" stroke="#e03020" fill="none"/>
<path d="M541.5,0.5 H548 L551.5,4 V12.5 H541.5 Z" fill="#fff" stroke="#808080"/><rect x="543" y="4" width="5" height="1" fill="#a0a0a0"/><rect x="543" y="7" width="4" height="1" fill="#a0a0a0"/><path d="M551,6.5 H554.5 V10 H558 V13.5 H554.5 V17 H551 V13.5 H547.5 V10 H551 Z" fill="#2ad02a" stroke="#108010" stroke-width="0.8"/>
<path d="M562,7 H568 L565,10 Z" fill="#000"/>
<path d="M601,7 H607 L604,10 Z" fill="#000"/>
<path d="M640,7 H646 L643,10 Z" fill="#000"/>
<path d="M946,7 H952 L949,10 Z" fill="#000"/>
<circle cx="587" cy="8" r="7.5" fill="#2a7ae0"/><circle cx="587" cy="8" r="5.5" fill="#fff"/><path d="M587,4.5 V8 H590" stroke="#000" fill="none"/>
<rect x="618.5" y="1.5" width="15" height="13" fill="#fff" stroke="#3a70c0"/><rect x="619" y="2" width="14" height="2" fill="#3a80d0"/><path d="M620,8 L623,6.5 L626,7.5 L629,6 L632,6.5" stroke="#c04030" fill="none"/><path d="M620,12 L623,10.5 L626,12 L629,10 L632,11" stroke="#30a040" fill="none"/>
<path d="M670,2 L670,14 L673,11 L676,16 L678,15 L675,10 L679,10 Z" fill="#202020"/>
<rect x="695" y="8" width="15" height="1" fill="#404040"/><rect x="702" y="1" width="1" height="15" fill="#404040"/><rect x="700" y="8" width="5" height="1" fill="#f0f0f0"/><rect x="702" y="6" width="1" height="5" fill="#f0f0f0"/>
<rect x="736" y="3" width="1" height="11" fill="#404040"/>
<rect x="759" y="8" width="12" height="1" fill="#404040"/>
<line x1="787" y1="14.5" x2="799" y2="3.5" stroke="#404040"/>
<g stroke="#404040" fill="none"><line x1="813" y1="12" x2="826" y2="1"/><line x1="813" y1="8" x2="824" y2="0"/><line x1="815" y1="15" x2="827" y2="5"/></g><g fill="#404040"><rect x="825" y="12" width="1.3" height="6"/><rect x="825" y="12" width="4" height="1.2"/><rect x="825" y="14.4" width="3.5" height="1.2"/><rect x="825" y="16.8" width="4" height="1.2"/></g>
<g fill="#606060"><rect x="841" y="1" width="1" height="1"/><rect x="843" y="1" width="1" height="1"/><rect x="845" y="1" width="1" height="1"/><rect x="847" y="1" width="1" height="1"/><rect x="849" y="1" width="1" height="1"/><rect x="851" y="1" width="1" height="1"/><rect x="853" y="1" width="1" height="1"/><rect x="841" y="4" width="1" height="1"/><rect x="843" y="4" width="1" height="1"/><rect x="845" y="4" width="1" height="1"/><rect x="847" y="4" width="1" height="1"/><rect x="849" y="4" width="1" height="1"/><rect x="851" y="4" width="1" height="1"/><rect x="853" y="4" width="1" height="1"/><rect x="841" y="7" width="1" height="1"/><rect x="843" y="7" width="1" height="1"/><rect x="845" y="7" width="1" height="1"/><rect x="847" y="7" width="1" height="1"/><rect x="849" y="7" width="1" height="1"/><rect x="851" y="7" width="1" height="1"/><rect x="853" y="7" width="1" height="1"/><rect x="841" y="10" width="1" height="1"/><rect x="843" y="10" width="1" height="1"/><rect x="845" y="10" width="1" height="1"/><rect x="847" y="10" width="1" height="1"/><rect x="849" y="10" width="1" height="1"/><rect x="851" y="10" width="1" height="1"/><rect x="853" y="10" width="1" height="1"/><rect x="841" y="13" width="1" height="1"/><rect x="843" y="13" width="1" height="1"/><rect x="845" y="13" width="1" height="1"/><rect x="847" y="13" width="1" height="1"/><rect x="849" y="13" width="1" height="1"/><rect x="851" y="13" width="1" height="1"/><rect x="853" y="13" width="1" height="1"/></g><g fill="#404040"><rect x="852" y="12" width="1.3" height="6"/><rect x="852" y="12" width="4" height="1.2"/><rect x="852" y="14.4" width="3.5" height="1.2"/></g>
<text x="872" y="13" font-family='"Liberation Sans", sans-serif' font-size="11" font-weight="bold" fill="#707070">A</text>
<rect x="898.5" y="1.5" width="12" height="13" fill="none" stroke="#808080" stroke-dasharray="1,1"/><text x="900" y="13" font-family='"Liberation Sans", sans-serif' font-size="12" font-weight="bold" fill="#707070">T</text>
<path d="M927,3 L930,1 L933,3 L930,5 Z M930,5 L935,10 M933,11 L936,9 L939,11 L936,13 Z" fill="#404040" stroke="#404040"/>
<g font-family='"Liberation Sans", sans-serif' font-size="9.5" fill="#404040">
<text x="973" y="11.8">M1</text>
<text x="1001" y="11.8">M5</text>
<text x="1027" y="11.8">M15</text>
<text x="1055" y="11.8">M30</text>
<text x="1086" y="11.8">H1</text>
<text x="1113" y="11.8">H4</text>
<text x="1142" y="11.8">D1</text>
<text x="1169" y="11.8">W1</text>
<text x="1196" y="11.8">MN</text>
</g>
<circle cx="1689.5" cy="5.5" r="3.8" fill="#eef4ff" stroke="#2a6ad8" stroke-width="1.3"/><line x1="1687" y1="8.5" x2="1682.5" y2="13" stroke="#2a6ad8" stroke-width="2"/>
<ellipse cx="1711" cy="10" rx="5.5" ry="4.5" fill="#e8e8f0" stroke="#b0b0b8"/><path d="M1708,14 L1709,17 L1712,14 Z" fill="#b0b0b8"/>
<circle cx="1720.5" cy="6" r="8" fill="#d83a1a"/><text x="1718" y="10" font-family='"Liberation Sans", sans-serif' font-size="10" font-weight="bold" fill="#fff">1</text>
<path transform="translate(76.00,1) scale(1.0250)" d="M3,0.5 V1.8 M0.5,2.2 H5.5 M1.6,3 L2.2,4.2 M4.4,3 L3.8,4.2 M0.5,4.8 H5.5 M0.5,7 H5.5 M3,4.8 V11.5 M3,7.5 L0.6,10.5 M3,7.5 L5.4,9.6 M11,0.8 L7.3,2.2 V7 Q7.3,10 6.3,11.5 M7.3,5 H11.5 M9.6,5 V11.5" fill="none" stroke="#000" stroke-width="0.976"/><path transform="translate(88.30,1) scale(1.0250)" d="M0.8,0.8 L2,2.2 M0.4,4.6 H2.1 V10.2 L3.6,8.6 M4.5,1.6 H11.5 M8.2,1.6 V11.2 L6.6,10.2" fill="none" stroke="#000" stroke-width="0.976"/><path transform="translate(100.60,1) scale(1.0250)" d="M3,0.3 L4,2 M9,0.3 L8,2 M2,2.8 H10 V8 H2 Z M2,5.4 H10 M6,2.8 V11.6 M0.4,9.6 H11.6" fill="none" stroke="#000" stroke-width="0.976"/>
<path transform="translate(229.50,0.5) scale(0.9833)" d="M6.2,0 L5.2,1.6 M2,2 H10 V11.6 H2 Z M2,5.2 H10 M2,8.3 H10" fill="none" stroke="#000" stroke-width="1.017"/><path transform="translate(241.30,0.5) scale(0.9833)" d="M0.6,1.8 H5 M0.2,4.8 H5.6 M2.6,4.8 L0.6,10 L5,9.3 M4,7.8 L5.6,10.2 M6,3.6 H11 V10.6 L9.6,10 M8.6,0.4 V4.8 Q8.6,9 6,11.6" fill="none" stroke="#000" stroke-width="1.017"/><path transform="translate(253.10,0.5) scale(0.9833)" d="M6,0 V1.6 M0.4,2.6 H11.6 M4,3.8 L2,6 M8,3.8 L10,6 M3.4,6.4 L10.6,11.6 M8.6,6.4 L1.4,11.6" fill="none" stroke="#000" stroke-width="1.017"/><path transform="translate(264.90,0.5) scale(0.9833)" d="M3,0.5 H9 V5.4 H3 Z M3,3 H9 M4,6 L1,9 M3.4,7 H10.6 Q10.6,11.6 8.6,11.6 M5.6,7 L3,11 M8,7 L5.4,11" fill="none" stroke="#000" stroke-width="1.017"/>
</svg>
<svg width="230" height="115" viewBox="0 0 230 115" style="position:absolute;left:0;top:0">
<defs>
<linearGradient id="gt" x1="0" y1="0" x2="0" y2="1"><stop offset="0" stop-color="#5c5cfa"/><stop offset="1" stop-color="#3c3ce6"/></linearGradient>
<linearGradient id="gb" x1="0" y1="0" x2="0" y2="1"><stop offset="0" stop-color="#3030e0"/><stop offset="1" stop-color="#0000a4"/></linearGradient>
<linearGradient id="gbtn" x1="0" y1="0" x2="0" y2="1"><stop offset="0" stop-color="#ececec"/><stop offset="1" stop-color="#c4c4c4"/></linearGradient>
</defs>
<g shape-rendering="crispEdges">
<rect x="3" y="44" width="52" height="24" fill="url(#gt)"/>
<rect x="3" y="68" width="109" height="40" fill="url(#gb)"/>
<path d="M3.5,107.5 V44.5 H54.5 V67.5 H111.5 V107.5 Z" fill="none" stroke="#0000b4"/>
<rect x="7" y="67" width="44" height="1" fill="#1a1aa8"/><rect x="7" y="68" width="44" height="1" fill="#8080f4"/>
<rect x="170" y="44" width="52" height="24" fill="url(#gt)"/>
<rect x="114" y="68" width="108" height="40" fill="url(#gb)"/>
<path d="M114.5,107.5 V67.5 H170.5 V44.5 H221.5 V107.5 Z" fill="none" stroke="#0000b4"/>
<rect x="174" y="67" width="44" height="1" fill="#1a1aa8"/><rect x="174" y="68" width="44" height="1" fill="#8080f4"/>
<rect x="55" y="44" width="115" height="24" fill="#fff"/>
<rect x="57.5" y="44.5" width="110" height="21" fill="#fff" stroke="#b4b4b4"/>
<rect x="58.5" y="45.5" width="19" height="19" fill="url(#gbtn)" stroke="#d0d0d0"/>
<rect x="146.5" y="45.5" width="20" height="19" fill="url(#gbtn)" stroke="#d0d0d0"/>
<rect x="78" y="45" width="1" height="20" fill="#c0c0c0"/><rect x="146" y="45" width="1" height="20" fill="#c0c0c0"/>
</g>
<path d="M65,53 H70 L67.5,56 Z" fill="#6a78b8"/>
<path d="M154,56 H159 L156.5,53 Z" fill="#6a78b8"/>
<g font-family='"Liberation Sans", sans-serif' fill="#fff">
<text x="15.3" y="60" font-size="12" textLength="25" lengthAdjust="spacingAndGlyphs">SELL</text>
<text x="183.7" y="60" font-size="12" textLength="23.3" lengthAdjust="spacingAndGlyphs">BUY</text>
<text x="26.5" y="98.5" font-size="11.5" font-weight="bold" textLength="20.5" lengthAdjust="spacingAndGlyphs">110</text>
<text x="50.5" y="98.5" font-size="32" textLength="35" lengthAdjust="spacingAndGlyphs">66</text>
<text x="90" y="82.7" font-size="11.5" font-weight="bold">8</text>
<text x="136.6" y="98.5" font-size="11.5" font-weight="bold" textLength="20.5" lengthAdjust="spacingAndGlyphs">110</text>
<text x="161.5" y="98.5" font-size="32" textLength="34.5" lengthAdjust="spacingAndGlyphs">75</text>
<text x="200.8" y="82.7" font-size="11.5" font-weight="bold">6</text>
</g>
<text x="119" y="59" font-family='"Liberation Sans", sans-serif' font-size="12" fill="#000" textLength="23.5" lengthAdjust="spacingAndGlyphs">1.00</text>
</svg>
</body></html>
